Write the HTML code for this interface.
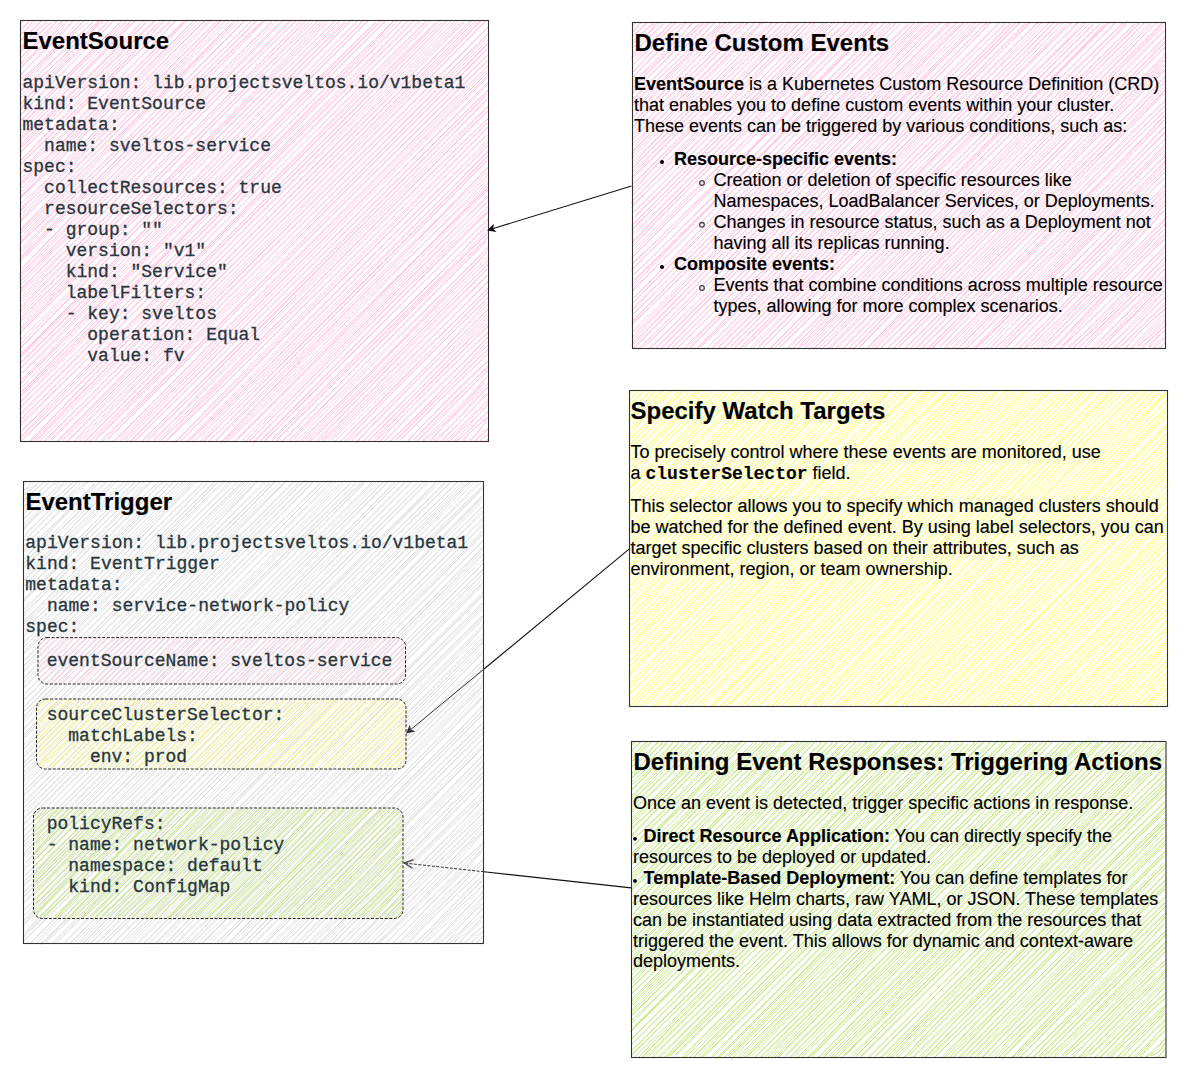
<!DOCTYPE html>
<html><head><meta charset="utf-8"><style>
html,body{margin:0;padding:0;background:#fff;width:1188px;height:1081px;overflow:hidden;position:relative}
.t{position:absolute;white-space:pre}
</style></head><body>
<svg width="1188" height="1081" style="position:absolute;left:0;top:0"><defs><clipPath id="c0"><rect x="38" y="637.6" width="367.5" height="46.39999999999998" rx="9"/></clipPath><clipPath id="c1"><rect x="36.5" y="699" width="369.5" height="70" rx="9"/></clipPath><clipPath id="c2"><rect x="33.5" y="808" width="369.5" height="110.5" rx="9"/></clipPath></defs><path d="M20.9 23.6C21.9 22.8 22.5 21.9 23.9 20.7M20.7 23.8C21.8 23.3 22.6 21.5 23.5 20.7M21.3 30.5C25.1 25.5 28.1 22.9 29.7 20.8M20.2 28.7C22.5 27.2 27.4 23.1 29.1 21.7M21.2 33.6C26.2 30.5 29.9 25.7 33.6 19.9M20.8 34.4C23.9 31.3 31.0 27.3 36.2 21.7M21.8 40.0C26.5 36.2 33.0 26.9 42.5 19.6M19.3 41.4C29.0 33.9 35.9 27.4 41.8 21.3M21.3 46.3C28.5 39.7 36.4 29.7 47.7 22.6M21.5 48.2C28.0 39.7 36.2 28.4 47.6 20.2M19.8 50.7C28.3 41.4 42.2 32.3 50.5 22.0M19.5 51.9C32.1 44.7 41.6 29.9 52.3 22.4M20.5 59.2C30.3 45.3 45.3 31.9 59.4 19.7M21.3 56.9C31.3 47.1 49.2 33.1 56.0 20.7M21.1 63.8C35.9 52.2 52.7 35.3 64.1 19.4M20.6 63.1C31.4 48.4 49.1 31.9 62.0 21.5M20.4 67.5C33.3 53.9 52.1 37.4 67.3 19.7M21.4 67.8C34.7 52.6 56.5 38.1 68.2 20.5M20.9 74.7C36.3 57.3 60.4 35.3 73.2 19.6M19.3 76.4C37.4 56.1 58.8 39.7 74.8 19.7M22.3 81.1C37.0 64.0 62.8 40.3 79.5 20.5M20.4 79.4C40.7 64.2 64.3 40.1 81.5 22.7M20.0 86.1C38.0 65.3 65.2 41.6 85.5 19.3M22.6 85.9C43.0 65.8 65.0 39.0 87.6 22.8M19.9 90.6C44.1 70.4 71.3 43.8 92.2 22.4M19.5 92.3C43.6 70.4 68.8 43.8 93.2 22.0M20.4 98.5C43.4 76.9 75.7 42.1 99.1 20.6M19.7 96.1C42.0 76.2 77.1 44.8 98.8 22.1M20.5 103.2C48.2 79.2 78.6 47.9 101.7 19.3M20.8 104.4C44.3 77.3 77.0 46.1 104.2 20.0M20.1 108.4C46.5 82.2 82.8 49.5 107.4 22.5M20.7 110.2C47.4 79.8 82.1 45.6 108.7 21.1M19.2 115.4C50.2 86.6 85.4 49.1 113.2 20.9M21.2 115.4C47.6 85.1 87.8 49.0 112.9 21.2M21.2 120.9C51.3 90.3 90.4 51.7 121.5 20.8M20.8 120.1C51.8 92.3 92.7 49.4 119.9 22.6M21.2 127.2C50.4 93.9 91.9 51.0 126.9 19.7M19.5 126.3C50.5 95.4 95.1 50.5 126.7 22.4M22.4 133.0C53.5 98.1 100.9 55.9 130.3 22.6M19.8 131.1C52.4 97.2 99.4 51.5 131.4 20.4M21.2 136.8C56.5 102.2 99.8 58.4 135.2 20.4M22.0 138.7C53.3 103.7 100.9 53.8 135.5 20.2M20.7 144.1C55.6 108.4 106.5 58.6 143.8 20.1M19.5 141.0C55.2 108.5 106.9 59.1 143.3 20.7M19.5 149.6C58.9 109.2 110.4 61.5 146.7 22.3M20.2 146.9C57.1 108.3 107.7 57.6 148.4 20.1M20.3 153.2C60.9 112.3 113.2 58.3 154.9 20.2M20.1 152.2C59.2 113.9 116.4 58.8 154.8 21.2M22.1 159.3C62.0 118.1 119.0 65.2 159.6 22.2M20.4 160.8C62.1 117.2 115.6 60.6 160.3 21.5M19.5 166.1C62.0 123.8 124.0 65.2 164.4 19.8M20.2 164.3C62.4 121.7 120.7 66.8 164.5 20.9M22.7 171.1C64.9 125.2 123.2 65.3 170.0 22.7M20.9 170.9C63.3 124.7 123.7 65.4 169.8 21.0M19.4 174.8C68.1 130.1 131.2 68.5 175.9 20.0M21.8 177.9C70.3 128.0 131.1 68.4 176.2 20.4M19.4 183.4C70.6 135.5 131.9 69.5 183.6 21.5M21.0 183.4C69.8 136.0 134.8 70.4 183.3 22.2M20.0 186.2C68.9 139.6 138.1 71.8 186.6 20.5M21.5 188.5C72.7 139.2 137.8 71.3 187.8 19.2M21.6 192.0C70.5 140.5 143.0 71.2 194.4 20.1M21.9 195.2C72.6 142.8 143.2 73.4 193.5 20.6M21.5 197.7C75.8 144.7 146.1 71.8 197.9 20.1M19.4 198.4C75.4 144.6 145.8 74.3 199.8 21.7M20.9 203.5C78.7 152.0 147.1 75.9 206.3 19.9M22.2 206.5C74.6 152.1 148.1 76.6 204.7 20.2M19.7 210.6C79.6 153.7 155.7 78.9 212.1 19.7M20.0 211.9C75.2 153.6 153.4 76.8 210.5 19.3M19.7 215.6C76.9 159.0 159.4 77.5 215.5 22.2M22.5 216.9C78.9 157.0 160.3 80.0 217.6 20.2M20.5 221.6C79.1 163.4 160.4 83.6 221.0 19.4M20.1 221.0C80.6 164.0 163.6 82.9 221.9 19.9M21.5 229.0C84.1 163.1 166.8 82.7 229.1 21.2M21.9 228.0C85.2 163.5 165.4 82.1 226.7 19.4M20.3 234.0C85.5 168.4 169.8 84.1 234.8 20.1M19.8 231.9C84.6 168.0 171.7 87.3 232.1 22.5M20.8 237.5C85.5 171.2 172.0 85.0 237.7 19.5M21.3 240.2C85.9 173.6 172.8 85.5 239.7 20.7M19.4 243.6C88.1 178.1 179.4 86.5 246.1 19.7M20.2 243.5C90.5 179.3 179.4 85.5 244.1 20.8M19.3 250.9C90.2 178.7 180.8 92.0 251.5 20.9M22.2 251.4C87.6 179.5 181.5 90.7 251.8 20.1M22.6 256.6C91.2 185.6 182.8 93.0 256.3 22.0M20.0 257.3C89.4 184.0 186.1 92.5 256.3 20.3M19.6 259.9C92.5 187.8 189.8 90.5 261.5 21.3M20.3 261.3C95.2 189.2 187.9 91.8 263.1 21.5M22.7 267.8C94.8 194.2 192.8 93.5 266.4 19.3M21.6 268.6C93.9 192.8 194.2 93.2 266.1 19.3M22.1 273.6C99.1 196.2 198.9 95.1 272.7 19.9M20.0 273.7C96.5 195.5 195.7 96.1 272.0 22.6M21.6 280.0C96.7 203.7 199.2 95.8 277.1 20.6M19.4 278.0C99.5 203.9 203.5 97.3 279.8 22.4M19.9 285.6C100.8 204.5 204.4 99.0 284.9 19.3M19.8 282.3C102.4 203.1 207.6 98.3 283.3 20.5M20.5 290.9C99.2 208.9 208.4 103.9 290.9 20.8M19.9 289.2C101.1 210.8 210.5 99.1 291.1 19.3M19.3 293.8C104.6 215.2 212.2 102.1 296.9 20.1M22.6 295.8C102.3 211.8 210.4 104.7 294.5 21.8M22.5 301.5C103.6 216.9 219.5 107.5 302.6 19.3M20.6 300.1C107.3 215.3 218.6 106.3 300.8 21.0M22.2 307.7C105.7 220.2 222.5 104.4 307.1 20.4M19.9 307.6C104.2 221.3 220.0 109.3 305.8 19.4M22.4 314.1C106.2 224.9 226.1 108.1 311.5 19.5M20.0 312.0C109.7 226.8 225.8 106.4 312.8 21.6M22.2 317.2C111.4 227.3 227.5 108.7 318.2 20.5M19.8 319.4C109.5 231.5 228.9 108.6 318.3 20.4M22.1 324.2C111.7 234.6 234.7 114.0 325.4 19.6M19.3 322.9C114.3 233.3 235.2 111.1 322.3 19.9M22.3 329.1C115.9 234.7 237.3 114.1 328.4 22.0M20.0 328.8C112.2 237.3 237.6 111.9 328.0 19.9M19.2 334.3C114.2 239.2 242.4 115.4 335.6 19.9M19.4 333.5C115.9 238.6 239.0 116.2 334.6 21.2M20.7 339.8C115.9 245.1 244.0 116.4 339.9 22.6M22.3 342.4C118.1 243.1 242.1 119.1 340.1 19.9M20.7 347.4C118.4 246.9 246.1 118.9 345.9 22.4M21.5 347.7C117.9 248.7 246.8 117.4 344.8 21.4M21.1 353.5C121.9 255.2 251.0 118.3 350.5 21.0M22.6 353.6C122.6 252.0 254.8 120.9 351.9 19.4M22.2 356.4C121.5 258.5 258.4 120.3 358.6 20.0M20.0 357.2C119.9 255.2 257.8 124.1 357.6 20.6M19.3 363.5C125.5 258.5 261.1 123.9 364.2 19.3M21.5 362.5C123.3 261.4 260.3 123.3 363.0 21.3M19.3 369.3C126.8 266.0 264.3 123.6 368.9 20.0M20.9 367.5C123.2 264.2 264.6 122.9 367.6 20.8M21.5 373.0C127.1 266.1 268.5 126.4 375.4 22.0M22.6 373.2C128.3 270.2 266.8 129.7 375.8 22.8M21.0 381.9C130.3 274.8 270.1 128.0 381.7 19.8M21.9 379.0C130.5 270.5 272.5 131.0 381.6 20.2M19.9 385.0C128.0 274.7 274.6 132.8 385.9 20.3M21.6 387.3C128.4 276.6 277.1 129.7 384.7 22.0M22.3 391.7C130.0 283.0 281.1 131.6 391.8 22.4M22.1 390.7C131.4 281.8 280.1 130.4 393.3 21.3M21.9 395.6C134.6 286.9 284.8 134.7 398.3 20.1M20.3 395.4C134.5 284.0 284.4 136.0 395.5 19.7M19.7 401.9C132.9 287.5 286.2 134.8 403.4 19.3M20.0 403.1C136.2 288.2 286.3 137.9 403.2 19.9M20.1 407.2C139.3 293.8 291.7 136.0 407.0 21.5M19.2 409.0C138.0 291.9 294.6 138.5 408.7 20.5M20.1 415.6C138.4 294.8 293.8 140.5 412.5 21.1M19.2 414.3C137.3 296.8 296.2 139.7 415.7 19.7M22.1 418.6C138.2 302.3 301.7 141.8 419.1 20.3M19.2 421.0C141.9 299.9 298.7 138.5 420.7 20.9M20.0 423.8C143.4 306.0 305.3 141.1 424.9 21.9M21.2 425.2C141.1 304.9 306.6 140.8 426.5 21.1M22.4 429.4C145.4 310.5 309.4 143.1 430.3 20.0M22.4 430.5C144.7 309.1 309.0 146.6 430.2 22.5M20.9 438.0C145.4 313.3 312.4 144.7 437.5 22.3M20.0 437.2C143.8 309.5 309.9 148.0 435.3 22.5M21.9 439.7C149.5 315.7 317.5 148.3 440.7 19.3M20.9 441.3C150.2 317.1 314.1 149.0 441.9 22.1M29.6 442.6C152.0 312.5 324.0 148.7 446.7 19.9M28.6 442.2C151.9 312.8 323.5 145.4 448.6 20.2M33.1 440.7C158.6 316.2 327.0 146.0 452.0 20.1M35.4 441.0C157.2 314.5 327.4 148.5 455.0 21.4M38.9 441.7C167.4 312.8 335.1 145.2 459.5 20.0M37.6 439.9C162.7 315.0 333.4 148.6 460.4 22.7M43.9 441.0C169.8 317.4 337.9 145.5 464.5 22.2M45.8 441.0C168.8 316.6 340.1 148.5 463.7 21.5M51.2 440.5C178.8 312.8 346.8 144.4 470.4 20.6M49.7 440.1C176.1 317.1 343.3 146.8 472.2 21.0M56.5 441.9C181.6 314.1 348.5 148.9 477.3 21.5M57.0 441.9C183.9 315.4 348.4 146.8 475.2 20.8M63.4 440.1C189.1 316.9 354.2 145.1 480.9 20.3M61.1 440.4C187.1 313.3 358.6 148.2 482.1 19.8M66.3 442.7C196.3 316.6 363.0 146.6 486.3 20.6M66.6 441.5C193.1 312.5 361.1 148.6 486.3 19.9M74.0 441.0C195.8 317.2 363.1 152.0 488.5 26.2M74.8 440.7C197.3 315.1 364.8 152.8 488.3 27.2M80.0 441.7C202.5 318.1 364.3 155.4 489.3 32.7M77.6 440.7C202.4 317.0 364.9 154.5 489.0 32.8M85.1 440.7C204.0 320.8 368.5 158.1 488.6 39.2M84.6 442.7C203.8 321.5 369.4 158.8 486.3 37.8M88.9 441.3C209.7 322.4 370.5 162.7 488.1 44.1M90.0 442.6C209.0 323.1 366.7 165.2 487.0 44.0M95.5 439.4C211.0 323.0 370.0 167.7 487.2 48.6M95.4 440.2C216.0 323.5 368.9 168.2 487.0 49.8M101.2 440.0C219.2 325.8 371.9 170.9 486.7 55.6M100.6 442.7C219.3 326.8 371.9 169.4 487.5 55.1M107.5 439.7C223.4 325.5 373.1 173.2 489.2 59.8M107.0 439.9C220.3 325.4 372.7 174.4 486.2 61.1M112.7 441.5C227.8 330.4 373.1 180.2 488.6 65.5M114.4 442.0C226.2 325.9 372.8 180.9 486.7 67.1M119.2 440.1C228.0 331.7 376.4 180.5 486.6 70.3M120.1 442.1C230.0 331.7 378.1 184.5 486.8 73.0M125.3 442.2C233.5 333.2 378.5 188.4 486.9 78.0M124.5 440.2C233.3 329.5 378.7 184.5 487.0 76.0M129.9 441.0C234.7 335.4 380.4 190.7 488.1 84.2M130.5 442.2C239.8 331.3 381.3 191.1 487.5 82.6M133.9 441.4C240.4 337.9 382.3 194.2 488.7 90.1M137.0 439.3C240.4 337.2 381.5 194.2 488.8 89.0M141.3 442.0C244.8 337.3 385.7 197.1 487.0 94.0M142.4 440.7C245.3 339.5 384.8 199.8 488.0 93.4M146.3 440.3C249.9 340.2 383.2 203.4 487.3 100.2M148.3 441.2C246.6 337.0 387.9 202.8 486.4 99.2M153.1 442.0C253.8 341.0 388.4 206.7 489.5 105.9M153.2 440.0C254.6 338.2 385.6 203.7 488.6 105.4M159.2 442.5C258.9 343.6 389.4 208.8 488.6 110.7M157.5 440.7C257.9 344.4 386.7 210.5 487.3 111.0M162.2 439.6C263.4 343.5 388.1 213.5 489.1 117.1M164.2 442.6C260.6 341.6 391.5 212.5 489.7 116.8M168.3 439.3C263.0 348.0 390.2 220.1 486.2 123.2M168.2 439.3C266.3 343.8 390.0 219.5 488.8 121.6M175.9 442.3C269.7 348.3 393.9 224.4 488.8 126.7M174.3 442.7C266.4 348.0 395.9 219.7 488.8 126.4M180.1 441.8C272.9 346.5 395.1 226.4 486.8 135.1M180.6 441.6C272.2 349.6 396.5 225.5 486.7 134.9M186.1 442.0C277.3 349.4 395.2 232.5 489.6 140.5M187.2 442.2C279.5 352.3 398.1 228.9 487.4 139.9M191.9 442.4C281.4 354.4 400.9 232.7 487.6 145.8M190.3 440.1C282.6 354.3 396.8 235.7 487.7 145.5M198.9 442.3C286.8 355.6 401.9 240.1 488.3 150.0M197.2 439.5C283.2 355.3 403.3 236.4 488.2 151.9M203.8 441.6C287.5 357.0 404.2 241.6 487.9 155.4M202.0 442.1C289.2 357.8 404.7 241.9 489.0 155.5M209.0 441.3C291.1 358.4 403.6 246.1 486.9 161.0M208.8 441.1C295.5 356.7 402.2 246.5 486.7 160.5M215.8 439.8C296.8 356.4 403.5 252.4 488.3 167.2M216.1 441.0C298.2 358.6 408.4 251.2 488.2 166.9M221.6 442.7C299.1 359.0 405.5 251.3 487.1 171.8M220.6 442.3C302.9 358.4 408.3 253.1 487.8 175.0M224.7 442.7C305.4 364.9 410.3 257.1 487.1 179.3M225.9 439.8C303.2 359.9 408.1 256.9 489.7 180.9M233.2 442.5C310.2 365.3 411.9 264.2 489.2 183.1M230.1 439.7C309.6 363.0 411.6 263.0 488.9 186.3M236.0 440.4C312.5 364.0 411.4 263.7 487.1 189.0M238.0 439.2C310.1 368.1 411.3 267.9 488.8 189.3M244.4 442.4C314.4 369.8 416.4 270.2 486.7 195.9M242.9 440.4C317.2 365.6 413.0 267.1 489.2 196.0M249.5 441.2C319.2 368.7 414.4 272.3 486.7 203.0M249.9 440.4C319.5 371.4 414.1 276.1 486.8 201.7M252.8 442.4C324.3 369.8 416.6 275.8 488.6 206.3M253.9 442.8C322.3 369.8 420.0 275.1 489.8 208.9M260.8 440.3C330.1 371.7 417.7 278.7 489.7 211.3M261.2 441.1C330.6 371.1 420.0 279.5 486.9 212.8M264.5 442.0C330.1 372.1 421.9 285.4 488.8 217.6M264.9 439.9C334.1 374.8 419.7 283.0 488.4 219.4M272.2 440.7C338.0 375.1 424.8 291.3 488.8 222.7M271.3 439.3C338.3 374.7 421.3 291.1 489.5 224.3M276.5 439.8C337.6 377.8 424.4 293.4 487.5 230.3M275.6 441.8C339.3 378.8 424.1 294.7 489.1 231.3M281.1 442.3C344.3 379.6 426.6 294.7 489.6 235.6M284.3 440.0C342.9 381.1 423.9 295.1 486.9 234.2M289.0 439.9C348.6 381.2 429.2 299.1 486.3 241.7M289.6 441.8C348.2 381.1 426.9 299.2 486.4 240.0M293.6 439.7C350.3 383.2 431.1 303.4 488.3 248.3M295.1 442.6C354.0 382.9 429.2 307.6 487.6 246.7M300.6 440.4C355.8 387.1 433.1 311.4 487.1 252.0M300.8 442.3C358.6 386.8 430.1 308.7 486.4 252.7M305.8 440.5C359.7 386.2 430.6 311.1 488.1 256.7M307.0 442.0C361.8 388.3 435.3 310.6 489.6 258.8M311.4 440.2C364.3 390.2 435.5 315.7 488.6 263.1M311.0 440.8C363.0 388.7 432.8 317.6 489.6 263.2M318.2 441.0C368.2 387.7 434.5 319.0 487.2 269.5M315.8 440.7C365.8 389.8 438.4 321.6 487.2 268.7M322.5 441.5C371.8 391.5 438.9 324.8 486.9 276.0M321.6 440.1C371.3 391.7 435.6 324.2 487.0 275.3M329.2 440.1C374.8 395.6 438.9 330.4 488.2 280.9M326.7 439.4C373.6 392.4 439.6 330.2 489.3 280.7M332.2 440.0C378.0 393.8 440.9 333.8 489.7 287.4M334.0 442.3C381.2 396.0 443.1 332.8 489.2 286.6M340.2 441.8C385.9 393.7 444.8 337.3 489.5 290.9M339.2 442.7C385.4 398.4 443.9 336.2 488.3 291.9M344.7 440.8C387.2 398.4 444.4 339.9 488.8 297.1M345.9 442.3C386.1 397.0 443.1 341.2 488.0 297.7M350.8 439.5C393.6 401.6 449.2 343.2 489.5 302.9M350.3 442.5C392.1 399.7 449.0 346.3 486.2 301.9M356.3 442.8C396.7 400.9 447.7 349.2 488.1 309.3M355.7 442.6C393.6 400.8 447.9 349.1 488.6 309.3M362.1 442.4C399.4 403.8 452.8 351.8 489.7 314.8M362.0 442.1C402.3 404.9 450.2 350.6 486.8 314.2M368.9 441.7C405.7 404.4 450.0 355.5 489.2 322.3M367.5 441.0C404.4 405.4 451.1 359.3 486.9 319.4M373.7 439.4C406.6 407.6 450.9 359.6 487.7 327.2M374.4 441.3C407.6 406.8 452.3 361.4 488.6 325.1M378.9 442.8C409.5 406.4 456.6 362.4 488.3 331.5M377.4 439.8C412.2 409.9 452.9 361.9 488.1 333.0M385.4 440.4C413.7 408.7 454.8 370.7 488.8 336.9M384.8 440.5C413.1 412.1 457.4 371.0 487.8 337.1M389.9 441.4C421.8 413.6 457.6 374.6 487.1 341.5M391.3 440.3C419.5 414.1 457.3 371.9 488.4 344.8M396.6 440.0C423.4 414.9 459.0 374.7 487.3 350.1M395.3 439.9C423.8 411.3 460.5 375.8 489.7 348.0M401.1 439.4C426.6 413.7 460.4 379.2 486.6 355.6M400.5 439.3C425.6 416.1 459.8 379.2 488.6 353.9M408.3 439.7C433.0 414.9 462.9 385.6 487.8 361.3M406.7 442.7C431.4 415.3 463.5 382.4 486.9 361.7M413.5 440.1C434.6 417.1 466.0 386.8 489.4 366.1M414.1 439.6C434.1 419.9 464.8 389.2 488.0 365.9M418.7 440.3C437.5 422.0 466.2 393.2 487.6 369.9M417.0 441.2C438.2 417.8 466.1 390.8 487.5 371.4M422.7 441.8C445.5 423.3 470.9 398.2 487.2 376.7M422.7 440.2C444.1 421.0 468.3 397.1 486.3 377.7M430.4 440.1C447.9 421.8 468.4 402.4 489.2 382.2M430.6 441.8C445.4 421.9 469.5 399.6 486.3 381.1M433.7 440.3C453.0 425.6 473.4 402.8 488.5 387.2M435.2 441.7C453.0 426.7 471.1 401.7 487.5 386.6M442.3 441.4C453.0 428.5 472.3 410.4 486.4 393.1M441.9 439.5C456.5 428.7 472.7 405.9 488.7 393.7M448.3 440.7C460.4 430.4 476.3 411.8 489.5 400.4M445.1 441.7C461.4 426.6 477.0 409.6 487.7 399.7M453.1 442.1C465.6 431.0 477.5 414.7 487.1 405.5M450.8 440.5C462.0 428.3 478.4 417.0 487.7 404.3M457.1 440.1C469.4 431.2 477.9 422.1 488.1 410.8M456.7 441.2C467.3 433.4 477.2 420.9 487.4 412.1M464.0 440.9C468.9 432.6 479.9 422.4 489.0 417.9M462.1 440.2C470.7 431.6 479.8 423.8 486.9 417.4M468.8 439.8C477.6 436.8 480.2 429.1 486.5 420.6M471.1 441.2C474.6 433.7 482.6 425.3 486.6 422.3M476.4 441.5C479.6 435.9 482.8 430.1 488.4 429.4M473.4 441.9C477.3 437.8 485.8 434.0 489.1 427.3M480.0 441.5C482.4 437.9 486.7 435.3 488.6 434.1M480.4 441.1C482.1 437.5 486.0 436.2 487.8 434.3M486.4 441.1C486.8 440.5 487.3 439.7 488.2 439.5M486.3 440.8C486.8 440.8 487.2 439.5 488.1 439.2" stroke="#ffc4e2" stroke-width="0.95" fill="none" stroke-opacity="1.0"/><rect x="20.5" y="20.5" width="468.0" height="421.0" fill="none" stroke="#333" stroke-width="1.1"/><path d="M24.0 484.6C25.2 484.4 26.3 482.8 27.0 481.6M23.8 484.9C24.7 483.9 26.2 483.2 26.8 481.9M24.9 489.8C26.8 487.4 29.0 483.2 32.0 481.9M23.6 490.4C27.7 489.5 31.4 484.9 33.5 482.9M25.1 494.6C27.1 492.3 36.3 486.1 38.8 482.4M24.5 495.4C25.7 490.2 34.9 486.0 37.6 483.4M22.5 502.4C29.5 496.0 38.2 487.4 43.3 482.3M22.6 500.6C27.8 497.8 36.5 485.8 45.2 482.2M24.1 506.6C30.2 500.2 39.7 489.7 49.4 482.2M24.3 505.9C31.3 501.8 42.1 490.8 49.1 480.5M24.9 511.7C31.2 505.6 45.2 489.6 56.9 482.8M25.7 513.3C34.8 501.4 44.4 490.6 56.1 480.7M22.3 519.1C36.2 507.3 51.8 493.7 59.7 481.3M25.3 519.0C33.2 509.1 48.9 494.5 62.3 483.3M24.6 525.6C38.0 514.1 54.9 492.3 65.1 481.5M24.4 523.0C34.6 514.0 54.6 493.4 66.6 483.1M22.9 529.9C36.3 513.1 55.6 498.0 73.3 482.3M22.9 530.3C37.8 513.7 59.7 496.6 71.3 482.7M24.7 536.8C39.3 517.7 61.6 500.1 79.4 480.2M25.1 534.1C41.1 519.0 61.5 496.3 76.6 483.1M25.2 541.0C39.5 522.7 64.0 501.9 84.7 482.4M24.3 539.8C41.6 524.0 65.0 499.0 82.2 481.5M22.2 547.3C43.3 530.2 67.1 499.6 88.5 480.3M24.6 546.2C42.2 527.9 69.7 504.0 88.2 482.0M25.8 551.0C47.2 533.0 74.2 503.9 94.9 483.0M23.5 551.9C47.6 532.5 72.4 504.6 95.8 483.3M24.9 558.4C47.2 534.9 75.1 504.0 100.9 481.5M23.4 560.1C45.5 534.0 76.6 502.9 100.3 481.5M22.2 565.4C49.0 538.4 79.6 504.3 105.9 481.8M23.3 563.3C51.0 538.6 83.7 507.1 106.8 482.2M22.5 568.5C49.5 544.9 85.0 510.3 112.0 483.8M22.4 569.6C49.0 540.8 83.6 507.1 113.1 481.2M24.7 574.3C52.6 549.3 90.1 508.4 117.0 480.9M24.8 577.0C53.7 549.4 88.5 508.0 117.7 480.5M22.9 581.1C56.0 549.7 92.4 513.0 124.3 482.5M24.5 580.7C51.3 550.8 90.8 512.4 123.6 481.4M23.4 586.6C55.2 552.6 99.6 513.7 129.0 481.1M25.8 585.1C54.5 553.1 95.4 511.5 129.1 482.8M25.0 590.8C57.3 559.7 101.5 515.9 135.4 481.7M24.4 591.7C58.2 560.6 102.7 514.1 135.2 481.1M25.0 599.7C58.9 565.6 103.2 514.1 139.8 481.2M23.9 598.5C61.4 561.7 106.6 514.6 141.0 481.5M22.3 602.3C60.8 565.4 111.5 517.8 144.0 482.0M22.7 602.5C58.7 564.6 110.6 517.1 146.5 483.5M25.7 609.3C63.8 570.9 112.1 522.4 151.8 481.4M22.6 610.1C61.7 573.1 110.7 520.5 149.7 482.5M23.7 616.4C62.4 573.7 115.8 521.5 158.5 482.5M23.0 613.9C62.8 577.7 115.5 522.3 157.9 482.5M22.8 621.9C66.9 580.8 119.8 522.7 163.9 481.2M23.9 622.0C66.1 578.8 121.4 525.6 161.4 482.7M23.0 627.6C69.2 581.3 126.9 527.9 167.7 483.0M23.3 624.5C64.6 585.2 123.1 526.5 166.9 483.7M22.6 630.7C68.1 589.2 130.1 529.0 174.6 480.5M25.7 630.2C70.0 584.4 129.0 525.5 173.0 483.1M23.7 636.1C69.7 592.9 130.8 528.6 177.8 483.8M22.7 637.3C68.8 592.2 132.9 526.6 178.4 482.7M23.5 643.2C70.8 597.4 138.9 531.6 186.7 481.5M23.2 642.1C69.9 594.9 136.4 530.7 184.4 480.4M23.5 647.1C74.3 599.1 141.8 534.7 191.6 482.6M25.3 649.7C73.6 601.4 140.2 531.4 190.5 481.3M23.7 653.2C76.3 605.1 143.4 534.4 198.3 480.2M23.6 653.6C77.6 604.3 147.0 531.3 195.4 480.6M24.7 659.6C76.5 609.3 146.0 536.8 202.7 482.2M25.3 660.2C76.0 607.4 150.0 534.8 202.5 483.8M24.8 665.5C80.1 609.7 153.4 537.4 207.9 482.4M23.0 666.3C79.0 611.9 152.8 537.0 207.0 483.5M23.0 670.2C81.0 614.8 158.3 537.4 215.0 482.1M22.8 672.7C82.6 616.8 158.6 536.4 213.4 482.5M23.6 678.4C80.7 617.3 158.5 539.8 220.3 480.6M25.1 677.2C82.0 621.3 161.7 540.3 219.0 480.5M23.9 683.9C85.2 621.9 164.7 540.8 225.8 480.7M23.5 682.2C82.6 623.0 162.2 540.5 224.4 480.3M24.8 687.7C87.7 624.3 169.3 545.9 229.8 481.1M22.9 688.2C85.2 624.1 168.2 543.2 231.5 482.4M24.8 693.4C89.3 629.7 171.9 546.1 235.8 482.5M25.5 693.0C87.0 631.4 171.6 543.3 237.8 482.8M24.9 699.4C91.5 635.8 173.9 547.8 241.9 482.0M23.9 699.7C89.2 636.6 176.1 547.3 243.0 481.7M24.0 706.6C90.5 635.9 181.4 549.3 248.1 482.9M25.0 706.4C88.8 640.1 178.3 546.8 246.1 481.0M24.9 711.3C93.9 642.3 182.0 551.8 251.5 482.7M23.7 711.4C94.7 640.5 183.5 550.8 254.9 483.1M22.2 718.5C93.4 645.0 190.3 552.7 257.9 481.1M24.0 716.5C96.4 648.0 190.3 551.1 257.1 481.3M22.9 720.8C95.9 650.2 192.7 553.4 264.5 481.5M25.1 721.3C93.7 649.3 192.5 553.6 265.9 482.2M24.2 727.4C96.7 655.4 197.9 556.3 269.3 483.1M23.8 729.6C95.4 653.9 197.0 553.4 269.9 483.4M25.3 732.2C101.8 658.5 201.8 557.5 276.1 480.8M24.6 734.4C101.3 656.3 202.5 555.9 275.0 481.0M22.6 737.9C100.8 663.0 202.9 561.4 282.4 483.6M24.7 738.1C98.7 664.0 203.1 557.8 279.8 482.7M24.3 744.4C105.1 665.2 210.0 559.0 287.3 480.8M25.1 746.8C102.3 666.9 206.6 561.2 286.7 480.3M22.5 750.6C105.6 668.0 213.9 560.6 293.5 481.7M25.5 752.5C103.5 669.3 213.4 562.6 294.3 482.1M25.5 754.9C106.8 674.3 213.8 562.4 298.3 483.3M23.2 757.8C108.6 671.5 216.6 566.8 299.6 481.0M23.4 763.6C107.1 677.7 218.6 567.3 304.6 480.4M22.8 763.1C108.3 675.8 220.3 567.6 303.3 480.4M24.3 767.5C107.5 682.8 222.0 568.1 308.0 482.0M23.5 767.2C107.9 684.4 223.1 569.5 310.3 480.8M25.3 773.3C113.4 683.9 227.9 569.6 314.1 480.5M22.6 773.2C111.4 685.2 226.3 568.9 314.1 482.1M22.9 777.6C113.1 692.0 229.3 573.5 320.0 483.3M24.0 780.0C111.6 691.2 230.0 569.8 321.2 482.7M22.3 784.3C116.9 691.6 236.3 571.4 326.7 481.3M24.3 785.7C113.4 694.4 238.5 570.3 327.4 480.4M24.4 791.0C118.2 697.6 242.1 571.8 333.4 481.4M25.6 790.0C115.1 699.1 240.8 572.6 332.0 480.5M23.4 794.7C117.3 704.3 246.5 577.8 336.9 481.0M23.9 795.9C119.5 702.5 242.1 576.9 339.0 483.5M25.2 802.6C119.1 703.9 250.2 578.8 342.1 482.8M24.9 800.3C122.1 707.1 249.5 579.5 344.8 483.6M24.3 807.0C123.6 708.6 254.2 579.8 350.4 483.0M25.6 805.9C120.2 711.5 250.2 578.0 351.0 483.0M23.8 812.0C124.3 714.8 255.1 582.8 354.9 483.5M25.1 813.6C122.8 711.4 256.5 583.1 356.5 483.2M23.4 818.9C122.3 717.5 257.0 580.9 361.8 483.1M25.1 818.3C124.1 716.1 258.8 584.8 361.0 481.8M24.4 823.5C127.8 721.3 264.4 586.3 364.8 481.2M22.6 824.9C125.0 720.3 266.0 583.9 364.6 483.2M23.0 831.3C127.8 725.5 270.0 586.4 372.3 483.4M25.8 828.8C128.5 722.8 265.8 588.8 373.1 480.8M23.8 836.7C127.9 729.8 273.4 588.1 376.7 481.5M23.6 837.1C127.8 730.2 271.2 590.5 379.0 482.6M23.5 841.8C131.9 734.4 277.6 589.8 383.7 481.6M23.5 842.9C132.8 733.8 275.2 591.1 381.6 483.2M25.4 847.7C132.5 735.4 281.9 593.6 389.8 480.3M22.7 847.2C132.9 738.7 280.2 590.3 389.1 480.4M24.9 851.8C137.7 742.2 285.0 594.1 394.7 481.7M23.6 854.2C134.0 739.5 283.8 594.9 395.3 482.7M25.1 857.6C138.9 743.5 288.6 593.1 398.9 482.1M23.3 856.6C139.4 747.8 285.6 593.8 399.5 481.6M25.6 862.7C136.4 748.0 290.7 595.9 405.2 481.8M25.7 863.0C138.3 751.1 292.0 598.1 404.8 483.5M23.3 868.2C140.6 754.2 296.6 597.0 412.4 481.9M23.5 871.0C141.0 751.9 296.7 595.8 411.6 481.2M25.2 875.4C140.7 755.8 296.9 600.2 416.6 483.6M24.9 875.8C139.8 756.2 300.0 602.5 416.8 483.1M24.5 881.5C146.0 762.5 302.3 601.1 423.8 481.6M25.1 880.3C143.8 761.3 304.1 603.8 421.7 483.3M22.7 885.9C145.4 767.0 308.0 603.8 426.9 481.7M23.7 886.7C146.9 767.0 305.2 604.3 427.7 483.2M24.9 892.1C148.3 770.8 311.9 607.1 435.6 483.4M22.7 892.9C145.8 766.7 311.6 606.8 434.9 482.4M23.2 896.7C149.7 775.6 316.7 606.0 438.8 480.5M24.7 896.2C146.1 773.7 313.1 605.5 441.0 481.4M22.4 903.2C147.9 778.8 316.9 606.9 445.6 483.1M24.5 902.9C148.9 778.6 317.4 610.3 444.8 482.2M25.1 909.2C149.6 781.0 322.6 607.8 449.4 483.0M24.5 909.9C152.2 781.4 321.5 612.1 451.4 481.6M25.8 915.8C156.5 782.6 326.8 609.8 458.4 481.4M23.8 915.4C153.0 783.3 326.4 610.7 457.5 481.8M22.9 921.3C153.9 790.0 329.2 612.3 462.5 481.8M24.2 921.1C157.9 791.2 332.1 614.7 464.1 482.9M22.4 925.0C158.4 793.5 333.6 614.4 466.3 483.3M22.8 926.5C154.8 791.1 334.1 617.4 469.8 481.3M25.1 931.6C157.0 798.3 338.6 619.6 472.3 480.6M25.5 932.8C156.9 794.7 339.1 617.0 473.6 483.2M23.0 936.5C161.7 803.2 345.4 618.3 477.7 483.5M24.8 937.0C158.6 798.1 341.2 619.1 480.5 483.2M23.6 941.2C161.5 802.8 347.4 621.9 484.2 485.1M22.5 942.4C161.6 806.1 343.7 620.3 483.4 485.4M31.2 942.6C163.7 805.4 346.8 626.1 481.6 490.0M30.2 943.7C166.9 804.6 346.8 625.1 482.8 488.1M36.0 943.8C170.7 808.6 346.8 631.9 482.1 495.9M35.7 941.4C168.2 808.1 350.3 631.4 482.1 497.1M41.5 943.9C176.2 812.0 347.9 631.2 481.3 499.5M40.1 944.6C175.9 811.1 352.7 632.3 482.0 501.6M45.4 941.3C180.1 813.2 350.4 639.2 483.9 505.2M45.4 943.0C179.7 814.3 349.4 639.5 481.6 507.7M52.5 944.2C182.0 815.4 351.5 639.1 483.0 512.7M52.5 942.2C182.8 811.2 355.6 643.2 482.6 510.5M57.8 941.6C185.1 813.4 358.1 645.7 483.5 516.9M57.4 941.5C187.4 813.3 354.8 644.4 483.8 519.2M64.6 941.7C190.9 814.5 354.9 647.4 483.4 525.4M64.3 943.4C188.9 817.8 358.0 651.7 483.1 523.5M70.1 944.1C194.6 816.4 359.9 655.3 484.5 530.5M69.0 944.4C193.1 820.0 357.6 652.3 481.8 530.9M74.4 942.4C200.0 821.4 362.9 658.8 481.5 534.7M76.2 944.8C196.0 820.1 358.0 655.9 483.9 534.1M82.0 944.5C202.8 824.4 363.9 661.5 482.4 541.6M79.2 944.2C200.6 822.5 364.8 659.5 482.3 541.1M86.4 943.5C204.8 826.2 365.0 667.8 483.1 547.8M84.8 942.0C202.7 822.7 365.1 667.9 482.2 547.7M90.8 942.8C210.6 827.0 364.3 667.9 483.7 552.6M90.2 943.7C211.7 826.4 366.2 670.1 482.0 551.1M97.9 943.7C210.9 824.8 366.6 671.3 482.3 556.0M96.2 943.0C212.0 828.8 365.6 671.0 484.7 558.2M102.5 942.7C218.4 826.9 371.4 676.3 483.7 563.0M104.4 941.3C219.1 830.7 370.0 676.0 484.2 562.2M107.1 941.9C222.0 831.2 371.6 679.4 484.5 567.7M107.6 941.5C221.9 831.1 369.3 678.8 484.7 568.5M112.8 944.3C224.3 833.7 370.5 686.6 481.7 576.2M113.6 942.5C223.7 834.1 371.3 684.4 483.1 573.1M121.2 942.0C228.4 833.4 374.9 688.9 481.9 579.2M121.5 941.4C227.6 831.6 373.8 687.0 483.6 581.4M125.7 943.8C232.9 834.1 374.4 692.7 481.5 584.5M124.5 941.4C235.4 836.2 373.5 691.5 482.5 585.7M132.4 943.2C238.9 835.4 380.0 697.1 484.3 593.2M130.6 941.8C234.7 836.3 379.8 696.7 484.3 590.5M138.0 941.5C239.3 840.1 378.5 698.9 482.8 596.5M138.9 942.9C241.7 839.3 376.7 700.8 481.8 595.4M143.7 943.1C245.4 841.8 379.0 706.5 482.0 602.8M144.4 943.9C247.1 839.2 379.5 705.4 484.3 602.4M149.9 941.5C248.5 840.7 381.0 710.2 482.0 606.8M148.8 944.6C246.2 845.1 381.2 708.7 482.6 609.1M154.2 944.6C253.5 842.8 386.1 711.2 483.0 615.9M155.9 942.8C251.8 843.8 383.5 713.7 482.0 615.8M158.1 942.5C254.1 846.6 384.7 716.5 481.8 621.0M160.0 943.8C254.7 848.5 384.1 714.8 481.7 618.9M165.5 943.3C259.3 845.9 388.2 720.5 484.4 623.9M165.1 944.4C263.2 846.5 390.1 720.2 483.6 626.8M169.5 944.5C263.5 848.3 392.0 726.7 481.6 629.4M170.8 943.1C265.5 849.5 387.4 723.3 484.3 632.2M177.3 943.3C271.1 849.5 388.8 730.8 484.1 638.2M177.0 941.9C267.2 850.4 391.3 729.6 483.7 635.9M180.9 943.9C273.5 854.4 390.2 732.5 483.4 642.3M183.1 943.8C275.1 854.4 391.4 732.2 483.5 641.3M189.7 941.9C278.7 853.1 395.8 735.8 482.7 649.7M188.7 944.0C275.0 853.3 392.0 734.6 481.7 647.1M193.4 942.7C282.9 856.6 395.4 741.6 481.5 654.0M193.5 941.8C281.5 854.4 395.5 743.0 482.9 652.0M200.4 944.2C285.6 860.4 396.3 745.9 483.5 659.9M198.7 942.1C286.4 859.9 398.4 742.8 484.2 659.8M203.3 943.1C286.1 856.9 397.9 749.5 483.8 664.2M203.3 942.0C291.1 857.0 397.5 750.8 482.2 665.8M212.4 941.7C291.4 860.9 401.2 751.1 482.4 670.8M209.1 941.5C293.1 862.4 400.0 754.0 481.8 669.2M217.2 942.4C298.7 863.3 400.6 754.5 483.0 675.2M217.1 942.6C298.0 864.6 400.8 756.8 483.8 675.4M220.9 943.7C298.9 862.5 405.6 760.7 484.1 683.1M220.7 941.9C301.0 863.3 403.4 759.9 483.3 680.6M227.8 943.8C302.8 865.3 407.2 765.3 481.3 688.5M228.1 944.4C305.2 865.1 404.6 762.8 481.9 687.0M234.3 944.2C309.8 867.1 407.1 769.4 483.8 695.0M231.7 943.4C308.3 866.2 410.4 770.3 481.5 691.7M238.9 941.9C312.3 869.1 411.0 772.4 481.6 699.0M240.0 941.6C312.1 868.5 410.7 770.7 481.5 698.6M244.0 942.9C315.5 871.2 413.8 778.5 483.8 705.6M245.1 941.6C315.0 869.0 414.1 778.4 482.8 705.1M249.0 942.9C317.8 874.5 414.7 779.8 483.4 709.6M248.8 942.6C317.7 872.0 414.6 778.1 481.5 712.0M254.5 941.5C325.9 873.1 413.1 785.5 481.8 716.1M255.7 942.4C326.6 872.8 413.6 785.4 481.6 715.0M263.0 944.5C328.6 875.4 416.4 789.2 482.9 723.3M262.5 941.7C325.9 878.3 415.7 786.7 481.9 723.3M266.4 942.9C333.9 877.3 416.5 793.3 484.8 726.0M266.7 941.9C334.0 878.7 415.6 793.4 482.7 728.4M273.3 944.4C337.8 881.7 418.7 795.2 484.6 732.3M272.5 942.5C334.5 882.2 419.5 796.7 482.6 731.5M280.0 943.9C341.6 884.3 422.9 801.3 482.1 740.1M279.7 942.1C341.7 879.7 421.9 799.0 483.6 738.2M285.4 942.4C345.9 881.4 425.7 805.2 484.2 745.5M284.9 943.5C344.1 883.1 422.5 805.4 481.4 745.6M290.9 944.3C346.5 882.9 424.1 805.3 482.0 749.3M291.0 942.0C349.1 883.4 424.9 807.3 481.5 748.3M296.7 944.6C353.9 886.6 428.9 813.1 482.3 756.0M294.9 944.3C352.3 888.5 426.9 811.7 483.3 754.1M300.9 944.4C355.0 887.7 430.9 816.8 483.6 760.2M299.9 944.5C355.4 889.6 428.1 813.6 481.3 761.5M307.0 944.2C358.2 891.5 431.8 818.2 484.0 766.4M308.3 944.8C360.8 892.5 428.6 818.6 482.8 766.4M311.9 943.8C363.7 892.8 429.9 826.1 481.9 772.7M314.3 943.2C365.9 892.1 433.3 825.7 484.1 771.4M317.7 944.5C367.6 895.7 435.7 830.1 481.9 776.5M318.2 944.6C368.3 895.2 433.1 828.2 483.2 776.9M323.0 942.2C371.4 893.1 432.6 830.7 482.7 783.9M324.6 943.9C371.7 893.5 435.8 833.8 482.1 783.0M328.4 943.3C376.7 898.1 435.7 837.4 483.8 790.4M331.0 941.4C373.3 894.6 438.6 836.5 484.6 789.3M333.9 942.9C378.6 900.1 437.3 837.9 483.5 797.0M333.9 942.7C377.7 897.1 436.4 837.9 483.4 794.5M340.2 943.0C383.1 902.9 440.3 845.9 481.9 800.7M340.7 941.9C381.7 898.0 441.4 846.0 483.3 799.5M346.1 942.5C388.5 901.5 440.2 849.4 482.7 805.9M346.7 941.2C386.6 902.7 444.3 846.9 484.3 807.3M351.9 942.3C392.7 906.2 441.8 850.7 483.2 812.7M353.4 944.0C390.5 906.1 444.0 850.9 483.3 812.8M356.6 941.6C392.8 904.5 445.3 855.3 484.4 818.9M357.3 944.4C397.7 906.2 445.3 854.4 482.5 817.9M363.0 943.4C398.6 906.5 446.4 861.5 484.0 822.6M363.6 942.2C397.5 908.2 444.6 857.7 482.4 824.6M367.5 944.1C400.9 907.6 450.1 864.5 481.7 828.1M370.6 944.6C401.1 911.1 448.5 861.6 483.2 830.6M375.7 944.3C409.2 911.9 451.1 869.8 482.6 833.3M373.1 941.4C408.4 911.2 448.4 865.4 481.6 833.0M379.3 943.4C410.4 914.8 451.9 870.6 483.6 842.1M379.5 942.0C412.3 910.5 450.5 869.3 484.7 842.2M385.5 943.9C416.1 911.4 453.6 876.7 481.4 846.2M386.3 942.8C414.3 913.4 456.3 877.1 484.4 846.4M393.2 943.2C418.5 916.6 452.9 880.7 481.7 850.6M392.8 943.1C418.6 916.5 456.0 880.3 481.2 852.8M397.1 944.7C423.7 916.3 456.6 881.8 484.6 858.9M398.8 944.1C425.7 918.3 456.3 884.5 484.0 858.5M402.2 943.4C427.0 917.8 461.3 884.8 481.8 864.3M404.6 943.9C427.4 921.2 459.5 886.6 481.7 864.0M410.3 941.5C429.8 918.6 462.7 890.7 484.0 867.3M409.5 942.1C428.8 920.7 461.9 889.4 483.8 869.2M414.9 942.2C437.3 925.1 462.0 895.3 482.5 875.9M415.5 943.9C434.4 924.8 462.3 892.9 482.8 875.7M420.9 941.7C441.5 924.3 465.4 896.9 483.6 878.4M420.5 942.6C436.4 924.0 461.9 900.8 482.1 881.1M427.1 941.3C444.1 927.0 465.0 905.2 482.9 885.6M424.5 941.7C441.2 925.8 464.9 901.1 484.1 884.3M432.9 942.9C449.1 926.0 469.7 907.4 484.0 890.4M433.0 944.0C448.7 927.2 465.3 909.1 483.5 891.4M438.1 943.7C450.6 930.9 471.7 913.1 483.9 896.0M435.8 943.7C449.0 927.2 469.0 910.8 483.2 896.6M441.8 942.5C455.2 929.1 473.0 914.0 483.2 903.6M444.3 944.7C457.3 930.3 471.1 913.7 481.7 902.9M446.6 941.9C459.4 932.9 475.0 919.7 481.6 907.5M447.8 944.6C460.7 933.5 471.8 919.3 483.5 908.5M453.2 944.7C460.3 931.6 474.6 921.1 482.1 915.7M454.0 941.6C463.7 936.6 476.9 923.6 484.2 914.6M460.4 941.2C469.2 935.0 476.4 924.0 481.4 919.3M459.3 944.4C464.0 934.4 474.3 928.4 483.3 920.8M463.8 944.6C470.7 936.7 480.2 930.1 482.2 926.6M466.0 941.4C468.5 939.0 476.4 928.7 484.2 927.0M470.5 943.5C476.8 939.9 480.1 933.0 484.4 932.4M471.6 943.2C473.4 937.7 477.8 932.9 482.6 932.2M476.7 943.5C478.7 941.2 480.9 938.6 482.4 936.6M475.8 942.3C479.1 940.4 481.9 937.9 482.9 936.2M482.2 943.0C482.5 942.7 482.8 942.6 483.0 942.2M482.2 943.0C482.4 942.6 482.7 942.4 483.1 942.3" stroke="#d9d9d9" stroke-width="0.75" fill="none" stroke-opacity="1.0"/><rect x="23.5" y="481.5" width="460.0" height="462.0" fill="none" stroke="#333" stroke-width="1.1"/><path d="M632.7 25.9C633.9 25.5 634.7 23.5 635.8 22.9M632.9 25.7C633.8 24.6 634.5 23.4 636.1 23.1M633.8 31.8C634.1 29.0 638.4 24.3 640.7 23.3M633.5 32.0C636.1 28.7 639.5 24.2 641.5 22.3M634.4 35.4C635.6 30.7 643.9 29.9 646.1 22.6M632.4 36.3C636.7 33.9 642.5 25.4 647.8 22.0M631.5 43.0C636.8 36.9 646.8 27.3 654.6 24.5M633.6 42.8C641.3 38.6 646.7 27.0 653.9 22.3M632.9 47.1C641.1 43.4 648.4 31.8 659.1 23.7M634.1 47.1C641.1 42.0 650.0 31.7 657.8 21.4M632.5 54.9C642.0 42.1 652.6 33.6 663.3 24.7M634.3 54.6C643.5 42.7 654.1 33.3 662.9 24.3M631.2 58.1C646.7 47.8 660.9 35.6 669.2 24.3M634.3 60.1C646.4 49.1 657.1 34.1 671.5 23.5M632.9 64.8C646.2 51.2 661.5 35.7 675.0 23.0M633.0 65.1C645.9 51.5 664.2 36.8 676.0 21.9M634.0 71.1C647.5 56.0 665.5 36.9 680.2 24.5M633.8 72.2C645.9 56.4 665.9 36.4 681.0 23.8M632.5 77.7C647.7 62.2 671.5 40.1 687.6 21.9M633.5 77.4C648.4 58.1 673.1 39.3 685.9 21.4M633.6 84.1C649.9 62.5 676.2 42.1 693.5 22.0M633.0 81.9C652.0 66.7 676.5 42.8 691.6 23.0M632.8 87.8C650.8 66.7 677.4 44.8 697.4 24.7M634.3 87.4C652.1 66.9 680.0 41.8 699.3 24.4M631.6 95.2C654.7 71.2 679.9 43.6 703.5 22.6M632.6 92.0C653.3 73.5 683.2 42.5 703.2 23.9M631.3 100.0C654.3 78.4 688.7 44.5 709.8 22.3M633.3 99.6C655.0 77.2 687.0 46.0 708.7 21.3M631.6 104.0C656.9 82.6 688.3 50.2 714.3 22.7M632.1 106.3C656.9 77.9 692.0 49.3 714.1 23.3M632.2 111.7C656.9 83.7 692.9 50.0 720.6 24.8M634.0 111.9C660.9 82.2 693.1 50.7 720.9 22.6M632.8 118.1C659.4 85.6 696.1 48.8 724.9 22.9M632.5 116.1C662.1 88.4 700.9 49.2 726.4 22.2M633.0 122.0C661.1 94.3 701.5 51.8 731.5 24.3M633.4 122.2C665.2 91.6 700.2 53.5 731.2 21.5M633.1 127.0C663.5 95.8 708.7 53.6 737.0 24.2M632.6 126.4C664.1 95.7 704.8 56.0 738.2 23.6M632.8 134.5C663.5 98.7 712.7 57.1 742.9 23.8M633.6 133.3C664.3 101.0 711.3 54.8 743.2 21.9M633.5 137.7C667.8 103.2 714.4 55.8 749.4 21.8M632.9 139.4C668.8 104.4 714.8 59.3 747.7 22.3M633.3 143.6C669.8 109.5 717.4 59.2 754.4 24.2M634.7 145.8C670.1 105.6 720.5 62.0 755.2 21.6M633.8 149.4C673.0 112.2 719.5 63.3 761.5 21.8M632.8 151.5C673.1 110.5 724.2 60.3 761.0 23.1M631.3 155.3C673.6 114.0 724.2 61.8 764.4 21.5M632.2 157.4C675.5 115.7 727.7 61.7 767.4 24.3M634.5 162.7C672.4 122.3 730.3 65.2 772.4 22.0M634.3 160.3C676.1 119.8 728.4 67.0 772.3 22.9M632.2 168.1C677.3 123.4 732.5 64.7 778.4 22.1M634.6 166.8C673.7 125.3 735.3 68.3 777.3 23.0M632.5 171.9C678.8 127.4 738.1 66.1 782.4 23.8M634.5 172.8C676.3 129.1 737.1 69.7 782.9 24.0M631.5 177.8C679.0 132.3 740.4 69.3 789.1 22.9M631.2 179.6C680.0 132.4 742.6 67.6 787.7 24.2M634.0 183.5C682.3 137.6 745.5 72.3 795.5 24.0M634.6 183.1C681.4 134.0 744.3 73.3 792.8 22.7M632.6 188.6C681.4 139.7 750.0 72.7 798.7 23.3M633.0 191.1C681.4 137.3 751.3 73.4 798.1 24.5M633.1 194.5C686.0 142.3 754.2 75.6 806.5 22.3M632.5 195.5C685.8 141.9 754.0 76.0 804.0 23.5M631.6 202.4C685.1 145.5 756.4 74.2 812.5 21.4M633.0 200.3C685.8 149.3 758.9 74.4 810.5 22.9M632.0 205.1C689.2 153.2 764.4 76.6 816.2 21.6M631.3 207.8C687.6 150.7 759.4 80.6 816.5 24.6M633.0 212.3C691.6 155.5 763.9 79.3 822.3 24.0M634.4 212.2C689.6 156.1 764.3 80.2 823.1 23.2M634.3 216.6C694.1 157.0 770.3 82.3 827.7 24.4M634.2 218.1C692.7 160.8 768.0 82.3 826.8 22.3M633.6 224.4C692.3 164.1 772.7 81.2 832.1 22.8M633.6 223.1C693.5 165.2 771.5 84.5 834.9 22.3M631.4 231.0C694.2 165.8 777.0 84.9 837.8 23.8M632.7 228.1C697.5 166.9 777.2 83.5 839.6 22.3M634.7 234.5C696.1 172.9 780.3 84.5 845.7 24.2M631.4 234.9C696.3 172.9 780.3 84.8 846.5 21.9M633.1 240.5C696.9 175.8 785.0 85.8 852.4 24.4M632.8 242.3C699.5 173.1 787.7 86.2 850.1 23.3M632.3 247.2C698.0 179.3 786.8 88.1 854.7 22.6M632.0 244.9C700.1 177.5 791.1 89.6 855.0 21.9M632.1 251.2C703.0 181.2 795.8 91.2 863.3 21.4M633.4 253.4C702.8 183.8 794.6 90.5 860.7 21.4M633.0 256.6C703.9 186.2 796.1 94.2 867.5 22.2M631.5 258.8C701.3 187.4 797.4 94.6 867.7 22.0M632.5 263.1C707.7 193.4 803.9 97.5 874.8 22.2M632.1 264.5C707.8 192.1 803.0 95.4 873.8 21.9M631.5 270.4C707.4 193.6 805.0 98.0 877.9 22.1M631.5 269.7C707.6 196.3 802.8 95.2 877.6 22.9M634.7 274.3C709.6 200.5 810.0 98.0 884.5 22.5M633.3 274.8C711.0 200.7 811.9 98.3 883.6 24.6M634.2 279.5C712.6 205.0 815.2 99.0 891.3 23.8M634.0 280.3C711.8 205.0 815.0 101.1 889.7 22.5M631.8 284.8C711.0 205.0 815.3 103.1 896.3 22.0M632.0 287.3C710.8 205.9 816.6 99.3 895.4 24.3M632.8 291.3C712.9 208.4 823.6 102.1 899.9 24.3M632.1 290.0C714.1 211.1 819.7 102.5 900.3 23.8M634.7 296.9C713.3 216.9 822.5 106.4 909.1 24.4M634.1 298.1C713.4 215.3 823.8 104.8 907.5 24.1M631.9 303.8C717.7 219.5 831.3 108.7 913.3 24.0M633.2 302.4C714.9 218.1 830.1 109.3 914.6 22.5M633.5 309.3C718.4 222.8 834.4 107.7 920.2 24.0M631.6 309.1C719.7 225.1 831.0 106.7 919.8 22.1M633.0 313.7C720.1 228.5 837.6 108.6 925.9 24.8M634.7 313.2C717.8 226.8 836.5 112.9 922.8 22.8M632.7 321.2C720.7 229.8 840.8 111.5 931.0 23.3M633.5 320.0C724.8 229.3 840.0 109.5 929.3 23.4M631.5 324.0C724.9 237.4 846.7 114.3 935.4 24.2M633.3 323.9C724.4 232.5 845.1 113.1 935.2 22.1M633.0 331.0C727.1 239.3 846.7 116.0 939.9 23.8M634.3 333.1C727.5 239.7 847.6 117.8 942.2 21.4M634.2 338.4C726.5 241.7 854.2 117.8 946.0 23.3M632.4 337.1C729.4 243.1 855.4 114.6 948.5 23.2M632.9 342.8C729.5 246.6 857.5 119.1 953.4 24.7M633.7 344.2C730.9 244.4 858.3 116.4 950.9 22.4M633.8 349.1C729.3 251.6 860.9 121.1 957.3 22.6M632.6 348.3C733.2 249.1 860.9 119.9 959.9 24.0M638.4 349.1C737.9 252.9 863.8 119.3 962.8 23.2M638.9 349.6C735.9 250.8 868.7 118.1 962.7 24.2M644.0 346.8C743.2 250.9 870.0 122.1 968.3 22.3M644.6 346.7C740.6 252.9 873.8 119.0 970.7 24.2M648.4 349.3C749.2 252.0 878.5 122.3 976.4 21.6M652.0 347.4C746.7 251.5 878.7 122.4 976.4 24.5M656.1 347.2C751.4 252.4 885.5 119.1 980.0 23.2M656.6 348.6C754.8 249.5 881.2 119.3 979.5 24.0M662.5 347.9C756.9 249.7 891.1 118.7 987.7 21.8M660.0 348.9C756.8 249.1 889.9 122.5 985.1 23.6M666.9 347.8C763.3 252.1 895.9 122.0 990.5 22.4M667.3 348.7C763.6 249.3 896.0 119.0 990.9 22.6M672.2 347.2C770.3 249.9 902.6 122.9 999.2 23.5M672.7 348.2C769.1 248.4 900.4 121.9 999.2 22.1M677.3 347.8C775.4 252.3 908.1 119.8 1005.3 22.9M677.2 348.5C776.9 249.5 906.1 119.4 1004.4 24.5M684.0 347.9C784.0 250.4 914.2 118.6 1010.7 24.5M685.7 348.5C784.3 247.9 913.6 122.2 1010.5 22.7M689.4 349.2C787.2 250.0 915.7 122.1 1013.8 23.9M690.7 346.5C786.7 250.0 917.8 122.6 1016.6 22.0M697.1 348.5C790.7 250.6 923.4 120.2 1020.0 21.6M697.2 347.7C791.2 252.9 923.5 120.7 1020.0 22.7M700.9 347.1C798.4 253.1 929.0 118.9 1025.5 23.0M699.5 346.8C800.8 249.1 930.2 120.2 1025.6 24.0M706.9 348.1C805.2 251.5 933.7 122.8 1030.2 21.4M708.0 347.3C805.1 249.0 931.8 120.4 1030.2 23.2M710.8 348.9C809.7 249.1 938.3 118.8 1037.9 22.2M713.6 347.8C811.6 251.0 940.8 119.9 1038.2 22.5M718.3 346.9C815.8 251.2 943.5 119.6 1044.8 23.6M717.2 349.2C817.6 252.0 946.8 119.4 1041.4 22.8M722.8 348.7C820.5 251.9 951.7 122.2 1048.1 23.8M725.5 347.6C823.3 248.0 951.5 119.9 1050.5 21.2M730.4 347.3C827.2 251.9 956.9 118.0 1053.4 24.0M730.4 347.0C825.6 251.4 958.4 121.2 1054.3 21.2M734.9 348.8C832.8 251.0 963.8 118.9 1060.7 21.9M734.4 347.4C833.8 250.9 960.8 121.8 1058.6 22.5M739.4 348.9C836.9 250.6 967.0 122.6 1064.5 21.5M742.3 347.2C838.6 249.2 970.7 123.0 1066.6 23.7M744.7 347.4C843.5 252.7 971.3 122.3 1070.8 21.9M745.7 346.2C842.4 248.4 973.2 118.4 1072.8 22.2M750.9 347.1C848.5 250.6 981.0 121.7 1077.3 22.8M751.5 349.5C849.4 249.6 977.6 122.6 1078.1 23.2M758.1 346.6C852.7 251.6 983.8 120.7 1084.3 24.4M758.9 347.5C853.6 251.2 984.8 123.1 1082.7 23.6M762.3 348.8C858.8 248.6 991.0 118.7 1086.7 22.2M764.4 346.5C858.9 249.0 992.3 120.3 1088.8 24.3M770.6 347.4C865.7 253.0 998.6 118.9 1093.7 24.6M769.2 349.6C868.0 251.8 997.1 118.3 1092.7 24.3M776.3 346.6C871.2 251.5 1001.7 121.9 1100.7 23.8M773.0 349.6C872.0 252.2 1001.1 120.7 1099.3 24.1M778.6 348.0C878.8 250.1 1010.4 122.9 1103.8 24.3M782.0 346.5C878.4 247.9 1010.1 120.2 1106.1 23.8M786.3 349.1C885.8 249.3 1011.0 118.5 1110.2 21.3M787.8 348.9C885.7 251.4 1014.0 118.5 1110.0 21.7M791.3 349.6C886.8 253.2 1017.0 123.0 1114.9 22.7M792.9 348.8C889.1 250.5 1017.2 120.6 1115.0 23.7M798.4 346.7C893.6 249.1 1024.6 121.3 1123.7 22.7M797.6 349.4C897.5 249.0 1022.2 119.6 1122.4 23.0M802.3 346.6C902.7 250.4 1032.5 121.6 1127.7 21.3M803.8 348.9C898.9 250.8 1031.0 122.0 1127.3 23.8M807.4 347.4C908.7 248.4 1034.6 118.4 1134.8 24.1M809.4 348.9C906.2 250.8 1038.4 121.3 1134.2 24.0M814.9 348.3C912.2 248.5 1041.4 120.1 1139.3 23.9M814.0 348.2C911.4 249.8 1044.3 118.3 1138.8 22.6M818.2 348.8C917.9 249.8 1046.0 117.9 1144.6 22.8M821.3 349.6C916.5 248.1 1049.6 122.3 1144.2 22.9M824.7 347.1C922.9 249.9 1051.7 122.1 1151.3 24.1M826.9 349.3C925.7 251.7 1052.9 118.6 1149.2 23.3M829.7 348.8C929.7 250.4 1060.9 122.8 1154.7 24.1M831.7 346.6C927.4 252.8 1060.0 118.5 1156.6 22.7M835.9 347.4C934.1 252.2 1062.7 121.7 1162.2 22.4M836.3 349.6C935.0 248.4 1063.9 121.2 1163.5 22.4M843.1 347.4C939.6 249.5 1067.2 122.9 1163.3 24.2M844.0 348.1C938.1 252.8 1066.4 121.0 1164.1 25.9M848.0 349.5C941.3 251.4 1069.1 125.7 1163.8 30.1M849.2 347.7C944.7 255.1 1069.6 128.5 1164.9 30.9M853.0 349.7C946.6 253.4 1069.7 132.3 1165.1 37.5M853.4 348.7C945.6 252.9 1070.8 131.2 1164.9 37.0M859.7 346.2C948.9 255.1 1071.8 135.9 1165.8 42.3M859.7 347.4C950.0 255.5 1074.9 135.7 1164.1 41.8M865.9 349.4C952.7 256.2 1073.8 138.3 1165.6 46.8M866.4 348.3C957.7 259.4 1074.2 135.7 1164.7 47.3M872.6 347.1C959.9 259.0 1078.9 141.0 1166.3 52.5M869.4 346.9C959.9 260.7 1075.6 140.9 1166.1 55.6M875.0 349.7C962.2 259.8 1078.1 148.4 1163.4 59.9M875.6 346.8C963.1 259.7 1080.5 144.0 1165.5 60.1M881.0 347.1C967.3 264.4 1082.3 149.8 1165.0 65.1M880.5 349.2C965.1 263.7 1081.7 148.0 1163.3 64.5M887.1 349.3C972.0 266.4 1081.4 152.1 1165.7 69.4M888.4 347.3C970.5 262.8 1081.2 154.3 1163.7 69.6M893.7 347.7C974.0 268.9 1085.5 160.2 1166.1 75.0M894.4 348.1C972.9 265.2 1081.4 160.0 1166.0 76.7M898.5 347.7C980.0 269.8 1086.8 164.0 1165.1 80.7M898.5 346.7C978.2 267.4 1083.4 163.7 1165.9 82.8M904.7 349.1C982.9 271.3 1089.0 165.1 1164.4 87.2M905.5 347.7C983.2 269.2 1085.7 167.9 1166.3 88.7M911.5 347.3C989.3 269.1 1090.3 170.0 1163.5 92.4M910.6 348.1C984.6 273.9 1086.5 167.9 1164.7 93.7M916.7 348.5C993.1 270.9 1087.7 172.4 1166.1 99.8M917.1 346.7C988.9 273.5 1092.5 175.1 1165.1 100.1M921.4 347.9C996.3 276.0 1091.0 179.0 1164.2 106.4M921.7 349.1C995.7 274.8 1092.4 179.4 1164.5 106.1M927.5 349.7C999.9 276.7 1095.6 179.8 1163.2 111.9M926.8 348.8C1001.4 277.5 1091.3 179.7 1166.2 110.0M931.6 348.3C1002.4 276.1 1097.6 187.5 1164.4 115.2M933.3 347.8C1001.8 281.0 1097.9 186.9 1164.3 116.5M939.9 346.5C1004.6 279.7 1099.7 191.4 1163.6 121.2M940.4 347.0C1005.4 277.7 1097.3 188.5 1164.0 120.0M945.0 348.2C1011.8 282.8 1100.0 193.4 1165.4 126.7M944.3 347.2C1011.2 280.1 1100.8 195.6 1163.3 127.3M951.3 349.1C1013.3 284.8 1103.1 195.4 1165.0 131.9M948.3 347.5C1012.4 285.4 1099.6 199.7 1164.5 133.4M955.1 347.3C1019.0 287.0 1099.9 201.7 1163.8 140.4M956.5 349.7C1017.8 287.9 1102.4 204.0 1166.6 137.3M960.5 346.3C1022.8 286.2 1104.3 207.8 1166.6 143.5M963.0 349.4C1019.9 286.5 1106.3 204.1 1164.1 145.5M966.5 348.3C1027.2 286.4 1107.9 207.1 1164.1 150.8M967.7 347.5C1029.1 290.2 1105.4 211.0 1163.7 148.5M974.4 349.5C1030.5 292.9 1108.5 214.3 1165.1 154.9M973.9 347.7C1028.8 292.2 1104.7 213.6 1165.2 156.9M978.6 346.7C1032.6 291.5 1109.5 217.0 1166.5 161.1M976.5 346.5C1033.0 293.7 1111.0 219.4 1165.8 160.0M982.8 346.2C1037.6 291.1 1110.3 219.9 1165.9 167.4M984.3 349.7C1039.3 291.6 1109.2 221.0 1164.0 165.5M991.4 347.4C1040.4 294.9 1113.5 224.3 1164.3 172.6M990.7 346.9C1042.0 297.7 1110.3 226.6 1163.6 173.1M995.9 347.5C1047.6 296.9 1113.9 230.2 1163.7 178.7M995.7 347.7C1046.5 299.2 1116.8 229.5 1163.9 178.2M1000.3 347.0C1048.8 299.8 1118.5 232.6 1165.5 184.8M1002.5 347.8C1048.6 298.0 1118.4 230.8 1165.5 185.3M1005.9 347.9C1056.5 301.4 1114.8 234.8 1165.9 190.1M1005.0 347.8C1054.9 298.9 1119.4 236.7 1163.3 189.7M1013.9 347.5C1056.8 303.7 1116.5 239.7 1165.4 195.4M1011.6 349.4C1057.0 302.8 1120.9 239.0 1165.0 193.6M1018.9 347.6C1061.7 306.5 1123.1 247.3 1165.1 200.7M1018.8 348.7C1063.8 304.8 1121.6 244.0 1163.7 199.3M1022.8 349.5C1065.2 304.8 1120.2 251.6 1165.1 204.9M1025.0 349.1C1063.9 306.8 1124.2 250.6 1163.2 206.3M1030.3 346.6C1071.8 309.1 1124.4 251.5 1163.2 210.8M1030.5 346.6C1072.6 306.8 1125.7 254.6 1164.4 210.5M1035.2 349.8C1076.4 306.7 1127.3 255.5 1166.0 219.4M1034.3 347.4C1073.6 307.0 1128.7 256.9 1166.8 216.3M1041.3 348.1C1077.4 312.0 1128.8 263.0 1166.0 223.0M1039.9 349.3C1077.4 311.0 1125.4 258.7 1165.9 223.8M1045.5 346.6C1083.1 313.0 1127.8 266.1 1163.4 230.0M1047.4 348.4C1081.3 311.1 1127.5 266.8 1164.0 229.5M1052.4 349.6C1085.9 311.7 1130.0 269.0 1163.8 234.0M1051.8 349.5C1086.3 315.6 1130.3 266.1 1165.3 235.4M1059.3 349.1C1088.3 316.6 1130.8 270.2 1163.7 239.1M1057.5 346.2C1088.2 313.1 1131.5 271.4 1164.1 240.1M1062.6 347.7C1091.1 319.3 1135.7 276.7 1164.5 245.6M1061.4 347.0C1092.1 319.2 1136.6 274.7 1166.4 246.0M1068.9 348.2C1098.3 320.1 1136.8 281.3 1163.6 251.2M1068.4 346.4C1099.7 321.3 1133.9 282.1 1163.3 253.1M1073.3 347.4C1103.4 322.6 1137.2 287.0 1163.9 258.8M1073.6 348.3C1101.0 318.7 1139.5 282.9 1165.6 256.5M1078.9 347.2C1105.7 324.5 1140.9 287.0 1165.5 263.7M1080.3 346.8C1103.3 321.7 1141.6 289.5 1164.1 261.9M1084.3 347.0C1107.0 322.1 1141.6 293.1 1165.3 268.9M1084.3 349.0C1109.7 323.4 1143.7 292.0 1164.1 269.1M1091.2 348.1C1115.0 326.2 1144.1 297.3 1166.2 276.2M1093.1 349.7C1113.9 325.6 1141.5 298.1 1165.9 273.5M1096.1 348.8C1118.6 328.9 1147.3 303.2 1165.0 279.9M1098.2 347.1C1119.9 327.4 1143.9 297.9 1165.6 280.1M1102.7 348.1C1121.4 327.0 1144.6 304.1 1164.3 284.4M1102.2 348.0C1119.5 326.7 1146.7 307.0 1165.1 285.4M1107.7 347.5C1125.4 332.6 1145.4 306.4 1164.3 292.3M1107.4 347.5C1127.9 330.7 1148.4 310.9 1164.6 291.0M1114.6 348.3C1126.9 335.2 1149.9 312.8 1166.2 296.5M1112.5 348.9C1128.2 335.0 1149.0 311.2 1164.5 297.6M1121.2 347.0C1135.9 332.4 1149.9 317.9 1164.2 302.7M1118.2 347.7C1134.9 332.4 1153.5 315.6 1166.0 303.5M1126.5 347.9C1136.0 334.2 1153.1 317.9 1166.4 308.3M1124.2 349.3C1135.4 336.0 1153.0 318.2 1165.3 309.7M1130.2 349.5C1141.8 339.8 1157.3 324.8 1165.8 314.1M1129.5 349.3C1139.3 337.9 1155.3 324.0 1163.8 313.1M1136.6 346.7C1144.2 341.3 1158.9 330.5 1165.8 319.9M1138.5 346.4C1143.9 340.8 1158.7 326.3 1164.6 319.5M1142.4 349.7C1147.0 341.0 1158.3 333.7 1166.4 325.2M1141.3 347.2C1149.8 339.0 1159.6 331.8 1166.7 323.6M1149.6 347.0C1150.7 340.7 1157.6 335.5 1166.4 330.1M1149.7 347.5C1153.2 343.1 1157.7 336.6 1165.8 329.4M1153.5 347.5C1155.5 342.9 1159.7 339.1 1166.0 337.3M1154.1 349.3C1155.5 345.9 1162.7 340.0 1166.3 337.7M1160.1 348.1C1160.3 346.5 1163.6 344.8 1164.5 341.9M1158.7 347.3C1160.5 347.1 1162.5 344.7 1165.7 342.0" stroke="#ffc4e2" stroke-width="0.95" fill="none" stroke-opacity="1.0"/><rect x="632.5" y="22.5" width="533.0" height="326.0" fill="none" stroke="#333" stroke-width="1.1"/><path d="M630.3 393.9C631.0 393.1 632.3 391.9 632.9 390.6M629.7 393.6C630.4 392.7 632.3 391.9 632.9 390.7M629.7 400.5C632.8 398.1 635.5 393.3 638.7 390.4M630.2 400.5C632.8 396.4 635.9 394.2 638.8 390.3M628.3 405.2C636.0 400.7 640.6 394.1 643.5 391.4M629.1 405.2C635.7 400.9 639.1 393.9 644.3 390.0M631.2 412.2C633.6 405.6 641.3 398.9 651.4 390.1M630.6 410.2C634.1 404.1 645.4 397.9 649.6 391.7M630.3 415.0C635.1 409.6 648.2 400.9 654.4 390.1M630.2 418.0C636.5 408.6 650.2 398.6 655.3 391.1M628.2 421.6C639.4 412.6 654.1 401.8 660.0 391.4M628.5 420.4C640.2 412.8 649.3 400.1 661.8 391.3M631.2 428.1C643.2 417.0 653.9 403.1 665.1 389.6M631.5 429.1C638.8 416.5 657.4 401.2 667.3 392.1M628.7 434.7C640.4 421.0 662.1 404.4 673.2 389.2M631.4 432.0C641.8 418.8 659.5 401.3 672.7 389.9M630.6 439.6C642.1 426.7 663.9 407.8 679.5 392.0M630.0 437.6C647.0 424.9 665.8 405.4 678.8 389.8M629.4 445.3C644.9 428.2 668.8 405.7 684.5 390.9M628.8 444.7C644.9 431.2 666.4 408.6 684.3 389.4M629.3 448.9C649.3 430.1 672.7 409.5 689.3 392.3M629.9 451.0C648.9 430.6 670.6 410.7 689.5 389.9M630.2 456.1C648.9 436.8 673.0 409.7 695.8 391.0M628.3 457.8C647.7 438.5 674.4 412.2 696.5 391.6M630.5 462.1C653.0 440.7 680.9 414.0 701.6 390.2M629.1 461.4C653.2 441.5 679.4 412.5 700.2 389.5M631.4 465.8C653.1 444.4 682.2 412.4 705.9 391.7M630.6 466.8C655.4 443.3 683.5 411.8 707.9 392.4M629.5 471.5C656.0 447.7 686.2 417.9 712.0 392.6M628.4 474.3C657.0 449.2 686.8 415.2 713.3 389.4M630.4 478.8C655.4 449.7 692.9 418.1 719.0 392.4M630.6 477.1C655.6 452.2 693.9 415.7 716.2 392.4M630.5 482.8C656.2 457.7 697.9 420.8 723.6 391.9M631.0 485.9C659.8 458.0 696.0 419.9 724.1 391.2M628.8 489.4C661.2 459.2 702.0 418.3 728.4 392.3M628.4 489.4C658.9 459.7 701.2 420.9 727.5 392.6M630.5 495.4C660.2 464.4 703.1 420.5 734.5 392.6M628.7 495.7C659.0 466.6 701.3 424.5 735.7 390.8M628.4 501.8C662.7 469.6 706.9 423.7 739.0 390.1M629.6 501.4C661.4 466.2 707.5 423.3 739.5 392.6M630.8 505.3C667.1 471.1 710.8 424.8 746.6 390.5M630.1 506.2C665.9 471.1 710.9 426.1 746.6 390.7M630.8 513.2C664.4 474.2 713.4 425.8 751.4 389.5M630.6 512.0C665.1 474.4 713.2 428.5 753.1 390.0M630.3 517.4C667.8 480.7 719.9 428.9 758.4 391.6M628.5 517.8C668.9 477.9 720.6 431.2 758.9 390.5M629.5 523.5C668.3 482.0 724.1 430.9 763.0 390.1M631.6 525.6C671.7 481.5 721.1 433.5 764.3 392.6M631.3 530.0C671.2 486.1 727.3 431.4 769.0 390.8M628.6 530.9C670.5 488.4 725.8 434.4 768.9 392.4M629.0 535.8C671.0 491.9 731.1 436.0 774.4 390.4M628.9 534.1C671.8 492.7 728.4 432.0 773.5 392.1M630.7 540.9C677.4 495.3 735.2 435.5 778.5 390.9M630.0 539.3C674.1 494.8 733.2 438.3 781.3 391.3M631.2 546.1C675.1 497.4 740.2 435.8 785.9 391.2M630.2 544.8C677.5 500.5 741.5 438.5 783.8 389.8M630.1 550.5C680.3 501.4 744.7 439.2 792.9 391.0M629.0 551.9C676.8 504.9 741.1 440.4 789.7 391.3M630.4 558.6C681.1 507.3 748.9 442.8 798.5 390.3M630.9 558.2C682.6 510.2 745.9 442.8 796.0 392.5M630.6 564.8C681.2 513.4 751.6 443.0 803.6 390.8M631.3 561.8C679.6 513.6 748.5 444.8 800.8 390.9M629.0 567.9C683.0 516.3 755.0 446.9 809.1 391.6M630.0 569.3C684.5 513.6 755.8 446.8 808.1 390.7M630.9 575.0C683.0 519.9 760.7 448.1 813.3 389.6M628.9 575.7C687.1 518.0 757.8 446.2 815.0 390.9M630.8 580.3C686.3 523.2 761.2 447.8 818.8 392.3M630.7 580.0C684.2 526.1 761.5 448.1 820.1 391.0M631.7 585.1C686.7 529.5 766.7 447.1 823.6 389.9M629.2 586.2C690.7 527.3 765.2 450.1 824.0 390.3M628.6 591.9C690.5 530.5 771.9 451.9 831.4 389.5M631.5 592.2C691.3 533.2 768.2 450.8 829.7 389.9M629.2 597.4C693.3 537.0 773.3 453.6 837.8 391.2M629.6 597.4C690.2 537.4 772.7 451.9 836.6 391.6M631.3 604.9C691.1 542.0 776.9 452.1 841.7 392.6M630.9 601.9C691.6 538.7 776.2 454.5 843.0 389.2M629.4 609.6C697.2 541.7 784.7 458.5 847.8 392.7M630.2 608.9C693.8 541.8 783.1 455.4 846.6 390.4M631.0 614.7C698.9 547.5 787.1 456.6 854.6 389.5M630.7 614.1C695.1 546.3 787.8 455.4 854.2 391.3M630.5 620.3C698.6 551.2 791.7 457.4 859.9 390.4M630.0 619.2C697.1 549.9 792.5 459.0 859.4 390.1M631.4 626.6C697.8 557.7 795.0 459.3 863.9 391.2M630.1 625.7C702.6 556.0 792.0 463.1 865.4 390.2M631.4 630.7C704.2 557.0 800.1 461.8 871.2 392.3M631.1 632.1C703.8 562.0 800.8 463.5 870.3 392.4M630.8 637.7C703.9 561.7 801.0 466.7 875.7 391.0M631.2 637.8C704.2 564.1 799.6 464.5 876.8 391.0M631.7 641.7C704.2 569.0 803.7 468.1 881.6 389.5M631.1 644.1C704.8 566.9 808.6 466.8 880.9 392.6M630.7 647.0C705.1 572.9 808.8 470.7 885.6 390.2M630.6 647.3C707.4 568.9 812.0 469.8 888.1 390.3M630.3 654.7C708.0 576.4 814.5 467.9 892.5 389.7M629.1 654.0C708.6 573.2 816.2 467.9 891.3 389.4M630.9 660.8C713.3 579.7 817.5 474.2 898.0 391.2M629.1 661.3C709.6 579.9 820.2 472.6 898.0 390.7M628.9 667.1C714.2 580.9 822.6 474.9 905.2 391.0M631.0 666.0C711.1 583.6 821.5 473.1 902.8 390.9M630.1 671.3C712.8 585.3 823.9 476.9 911.4 390.2M631.5 669.7C716.0 589.6 828.7 473.9 909.5 392.5M628.4 675.8C714.4 590.8 831.0 474.8 915.7 389.3M628.6 676.1C713.6 592.6 832.0 474.2 914.2 389.6M631.1 683.6C719.1 592.7 831.5 480.9 921.9 390.3M629.0 683.8C715.2 595.7 832.0 479.3 922.2 389.4M630.6 687.0C721.1 599.6 838.9 480.8 926.9 390.0M628.4 689.4C719.6 598.8 839.3 480.3 928.0 391.1M629.2 693.7C720.9 604.8 843.0 480.2 931.6 389.2M630.0 693.9C720.8 603.9 843.9 481.9 932.9 390.9M631.0 699.9C721.5 606.0 845.8 482.4 936.9 390.1M631.8 700.1C724.8 605.0 846.5 486.0 937.8 391.7M629.6 706.3C722.3 612.4 849.3 484.4 945.0 390.4M629.9 705.8C725.6 609.0 849.1 482.5 945.4 392.5M633.5 705.4C727.1 612.3 854.6 484.1 948.5 390.9M635.3 705.4C730.5 613.5 854.0 484.2 947.9 392.2M641.0 704.7C735.0 609.1 859.6 485.1 956.9 391.6M642.0 704.7C737.3 612.8 862.5 486.8 955.6 389.5M644.8 705.1C738.2 609.8 864.7 487.8 959.3 391.2M647.0 705.2C738.5 610.9 868.1 483.3 962.6 389.8M652.6 706.2C743.6 609.3 873.3 485.5 967.7 390.4M652.5 704.9C748.0 612.6 870.2 486.7 965.8 390.0M655.6 705.9C752.9 612.5 876.1 483.0 971.4 392.0M657.7 706.7C753.9 610.8 877.8 486.3 970.5 392.2M664.4 706.5C757.3 609.0 883.7 485.0 978.0 392.0M662.3 705.6C758.7 613.6 883.2 487.4 976.9 390.3M667.2 706.1C762.4 609.7 891.5 486.1 984.4 392.0M669.1 705.4C762.5 613.6 889.9 486.9 982.2 391.3M674.5 706.9C769.1 612.0 893.0 483.3 987.9 392.8M674.9 706.8C768.6 612.9 895.5 487.7 989.8 390.1M678.4 707.0C774.6 609.2 899.9 486.4 993.1 391.5M681.2 704.5C772.3 613.6 902.7 484.6 994.9 392.1M684.5 704.7C781.1 613.9 906.3 487.9 999.5 390.7M685.3 706.6C777.4 609.5 907.7 483.4 998.7 390.7M690.5 706.1C783.6 612.5 911.2 483.3 1006.3 389.3M691.1 705.5C784.0 609.2 912.0 488.0 1008.0 389.4M697.8 704.6C793.9 612.6 917.9 484.2 1012.0 390.5M696.6 706.1C789.1 611.1 920.0 485.0 1011.4 391.2M702.5 706.9C796.4 612.6 921.4 486.1 1018.6 391.9M700.8 704.9C798.3 608.9 925.0 483.3 1016.3 390.5M709.8 707.6C805.0 611.2 930.6 483.0 1023.6 392.2M709.2 706.5C800.4 611.6 929.2 486.5 1024.1 389.7M712.7 706.2C810.0 614.0 935.2 485.2 1030.5 390.1M713.5 705.9C807.1 609.7 936.5 484.8 1027.5 389.5M720.8 706.2C815.1 611.2 938.6 485.8 1035.9 392.4M718.8 707.2C813.1 611.1 940.2 488.1 1032.8 391.5M726.9 705.5C819.8 611.8 944.0 487.1 1041.8 392.6M725.1 706.9C820.7 611.8 943.6 485.3 1041.6 391.4M729.2 704.9C823.3 611.1 948.9 486.1 1047.5 390.6M729.8 705.0C822.7 612.7 951.7 485.4 1046.3 392.5M736.2 704.2C830.0 614.2 956.1 487.4 1050.9 391.1M737.6 707.1C832.8 609.4 955.4 482.9 1051.4 391.0M742.1 705.8C836.1 611.5 960.5 486.9 1058.7 392.6M742.2 704.8C834.9 611.4 965.3 483.5 1058.4 389.4M746.9 707.0C839.7 610.1 967.2 487.4 1062.2 392.5M746.3 706.6C843.9 609.1 968.2 484.0 1064.1 392.7M752.0 705.1C845.9 610.3 971.6 487.8 1069.3 391.3M754.3 705.9C846.3 610.2 972.2 486.2 1070.1 392.7M759.4 706.1C852.6 612.4 982.0 483.1 1075.0 391.1M759.0 704.7C855.4 612.4 982.0 485.9 1075.0 390.8M765.1 707.7C857.1 613.8 982.9 487.8 1080.8 390.4M766.3 706.6C860.5 612.0 983.7 483.2 1081.3 391.4M771.3 705.8C863.6 610.2 992.9 486.1 1084.0 391.2M771.3 707.1C864.5 610.7 992.4 487.6 1085.1 390.8M775.3 706.8C871.5 613.0 995.6 488.2 1090.0 389.2M776.8 705.4C868.6 613.7 996.2 484.3 1092.0 392.2M781.3 706.1C873.8 612.2 1003.4 486.6 1096.8 390.3M781.3 707.3C873.6 611.8 1002.3 484.0 1095.0 389.7M787.4 704.2C883.9 609.2 1008.7 485.5 1100.7 392.7M787.5 707.2C882.8 613.7 1005.8 487.2 1102.9 392.6M792.4 707.5C888.9 610.9 1013.6 487.0 1109.1 392.7M791.4 706.1C886.7 612.1 1014.8 484.9 1108.2 391.8M799.3 707.5C893.1 613.3 1017.9 484.3 1113.2 391.1M798.3 706.5C893.2 612.7 1018.7 482.9 1112.4 392.7M803.9 706.3C899.3 611.3 1022.3 484.1 1117.8 392.7M803.7 706.5C897.6 611.8 1025.8 485.6 1118.1 390.9M810.9 706.4C904.4 612.9 1032.8 484.7 1123.5 391.6M811.2 705.0C906.2 611.2 1030.2 485.5 1125.5 389.2M815.2 705.0C907.7 610.3 1038.5 484.3 1131.3 391.5M814.9 706.3C912.7 609.5 1034.6 483.7 1130.2 392.6M821.1 705.2C913.5 608.9 1039.7 484.5 1136.9 392.4M820.0 705.8C918.3 614.1 1041.4 486.3 1135.8 391.8M825.6 706.4C919.5 609.7 1049.6 486.6 1143.3 392.4M827.9 704.4C922.7 613.1 1046.5 482.8 1142.4 389.3M833.4 707.8C926.2 613.2 1055.6 484.8 1148.0 390.5M831.6 707.8C926.1 612.7 1055.7 485.3 1147.3 390.8M839.5 705.6C935.3 612.9 1059.9 487.3 1153.0 392.1M839.8 707.6C930.1 611.6 1058.0 482.8 1153.4 390.6M845.7 705.3C937.7 613.0 1065.4 486.4 1160.5 389.3M843.9 704.5C938.3 611.8 1066.1 485.5 1160.1 391.9M849.5 705.9C943.2 613.0 1069.4 486.4 1165.4 391.8M849.1 707.4C943.4 610.7 1069.7 486.1 1166.2 392.0M853.6 706.2C950.9 612.9 1076.2 489.0 1168.5 392.7M856.0 706.9C950.7 614.5 1074.7 486.2 1166.7 392.9M860.9 706.1C952.5 616.8 1075.9 494.3 1166.5 399.8M862.4 704.8C953.2 614.5 1076.5 490.6 1168.0 399.5M867.2 705.5C957.5 618.5 1075.7 493.0 1168.0 405.5M868.0 706.1C958.8 615.2 1079.5 495.1 1167.5 406.7M873.0 707.2C959.9 616.7 1078.1 501.5 1166.5 410.9M870.6 707.8C961.4 616.5 1080.0 501.7 1168.0 411.4M877.4 706.0C966.5 620.0 1080.0 504.4 1166.0 416.0M876.7 704.2C962.9 619.5 1079.3 502.3 1166.5 417.1M884.4 705.5C967.9 618.4 1083.8 507.8 1167.9 423.4M883.8 706.7C965.9 623.5 1082.6 507.1 1167.2 424.0M890.6 707.4C973.2 622.2 1084.1 513.3 1167.3 426.4M887.8 707.2C970.0 620.5 1082.4 511.7 1166.3 427.3M896.4 704.8C977.2 623.6 1086.3 513.6 1166.2 433.4M893.2 706.3C974.0 625.3 1083.0 517.8 1167.8 432.5M901.2 704.8C978.2 625.2 1089.1 521.7 1166.7 437.9M901.4 706.5C981.3 626.0 1086.5 521.3 1167.3 439.5M905.4 705.7C983.6 627.4 1088.2 521.8 1167.6 446.8M905.6 707.0C983.2 628.2 1090.2 521.3 1165.9 445.1M911.7 704.9C986.9 628.0 1089.4 526.4 1167.5 451.4M913.2 707.3C988.1 627.8 1090.2 529.8 1168.0 450.4M916.0 705.6C991.2 631.1 1089.7 532.3 1165.9 457.7M917.5 707.1C991.0 629.8 1092.7 528.9 1167.8 457.3M924.7 706.8C994.0 633.1 1095.3 533.2 1167.0 461.6M921.7 706.7C995.8 635.4 1095.8 534.3 1166.9 463.2M928.9 706.3C1001.3 636.3 1094.2 539.3 1166.8 468.9M928.9 706.3C1000.0 632.7 1097.4 539.5 1165.3 468.9M935.3 706.9C1001.8 635.3 1095.4 543.9 1167.4 474.9M933.4 704.3C1004.4 636.0 1097.0 540.6 1165.7 472.3M940.2 705.1C1006.3 637.4 1097.1 547.0 1165.5 477.5M938.9 706.8C1005.8 640.4 1096.7 548.0 1168.4 478.4M946.7 705.9C1013.3 641.8 1102.8 553.0 1168.4 483.5M945.5 706.0C1010.8 637.1 1099.0 549.2 1168.3 484.3M952.9 705.3C1017.1 641.0 1100.2 554.3 1166.5 492.1M950.6 707.6C1014.8 638.9 1104.5 552.8 1166.7 492.1M958.1 706.3C1019.7 645.6 1104.3 561.4 1166.2 497.3M958.6 705.6C1020.9 640.4 1105.0 560.5 1167.7 496.9M961.6 704.5C1021.9 646.6 1105.3 565.7 1165.4 501.9M963.6 705.7C1024.6 646.7 1107.8 562.0 1165.9 501.4M966.7 706.6C1029.6 648.1 1108.1 568.7 1167.7 507.9M967.0 707.6C1026.2 647.2 1106.4 569.3 1167.6 505.9M973.2 705.9C1030.9 650.2 1110.3 571.3 1167.0 514.6M975.6 707.4C1029.5 646.6 1109.9 568.8 1167.9 513.2M980.2 705.4C1037.7 651.1 1110.5 575.1 1166.6 519.8M981.4 707.5C1038.0 647.4 1108.7 575.7 1167.4 517.2M984.2 706.9C1042.0 654.2 1113.3 581.4 1167.7 523.1M986.4 705.9C1040.9 649.3 1111.8 579.9 1168.2 525.9M990.5 704.8C1043.7 651.0 1115.4 581.2 1166.8 528.7M992.6 704.6C1042.2 653.9 1114.5 583.4 1167.5 530.5M995.5 705.9C1046.4 654.0 1117.9 584.3 1168.2 536.1M996.6 706.0C1045.6 656.7 1115.7 585.6 1166.7 533.9M1002.1 704.4C1053.1 655.0 1116.6 588.4 1165.5 542.5M1001.7 706.1C1053.6 659.3 1118.0 588.2 1167.9 541.3M1006.6 706.6C1053.3 655.9 1122.0 594.2 1165.7 548.4M1008.2 706.3C1055.0 659.6 1120.8 595.7 1165.6 546.4M1012.5 705.9C1058.8 660.6 1123.7 596.1 1168.5 551.4M1014.3 705.9C1057.5 660.5 1120.0 600.0 1167.1 553.8M1020.1 705.7C1064.7 662.0 1124.0 605.0 1165.7 559.2M1018.4 706.7C1065.8 660.7 1125.1 603.0 1168.1 557.4M1026.6 707.4C1067.3 663.9 1126.0 606.1 1168.0 563.5M1026.4 705.0C1065.8 662.3 1121.9 606.9 1167.1 562.7M1031.0 705.6C1072.5 662.8 1125.2 607.9 1168.1 569.8M1029.4 707.3C1070.9 666.0 1128.1 612.3 1165.7 569.9M1037.9 707.7C1076.9 665.6 1126.8 614.6 1166.6 577.0M1037.5 704.6C1076.0 666.3 1127.1 614.0 1168.4 575.9M1042.7 705.8C1077.2 665.9 1131.9 616.8 1167.8 582.3M1043.0 705.7C1079.0 669.0 1127.1 615.8 1166.0 579.1M1046.8 707.4C1082.9 669.7 1132.3 621.2 1167.9 585.7M1047.0 706.0C1084.7 670.2 1128.8 621.6 1166.1 586.3M1053.5 705.0C1086.6 670.2 1134.9 624.0 1166.6 592.4M1054.7 704.5C1086.9 672.5 1134.9 625.4 1167.2 592.4M1057.3 704.9C1092.7 673.0 1133.6 631.3 1168.4 598.2M1059.1 707.5C1092.3 675.8 1134.4 631.9 1165.8 597.3M1063.1 706.5C1094.2 673.6 1135.0 635.5 1166.4 604.2M1065.3 707.5C1096.9 673.9 1137.4 634.2 1166.7 602.0M1070.0 704.3C1099.0 679.0 1139.6 638.4 1166.0 610.1M1071.9 704.2C1096.8 679.0 1136.1 638.7 1166.6 609.3M1075.0 705.6C1101.4 679.6 1140.3 639.9 1166.9 614.1M1077.5 704.6C1102.5 678.6 1141.8 640.0 1166.0 614.1M1081.8 706.4C1106.9 682.4 1142.8 646.0 1166.1 620.0M1080.0 705.5C1106.6 681.1 1138.9 647.0 1168.1 620.3M1087.8 704.6C1109.8 682.2 1142.2 650.4 1166.7 627.4M1086.8 705.4C1113.8 681.2 1142.9 649.4 1168.5 626.9M1094.1 705.5C1115.3 682.5 1147.0 653.4 1167.6 630.7M1094.4 706.2C1117.4 684.8 1146.5 654.4 1166.4 632.0M1098.9 704.7C1119.8 684.4 1147.9 658.2 1168.2 638.0M1097.8 707.8C1120.9 686.5 1145.8 660.5 1168.0 638.1M1105.6 706.6C1120.5 689.2 1149.9 662.5 1166.8 643.1M1104.0 707.1C1121.6 687.7 1147.4 662.6 1165.3 642.8M1111.2 705.7C1128.8 688.7 1149.5 663.4 1165.6 647.0M1108.4 704.2C1126.0 688.7 1150.2 664.5 1168.4 647.2M1116.0 706.5C1129.8 688.4 1150.4 668.4 1168.7 653.0M1113.8 707.1C1132.6 692.1 1149.0 670.4 1166.2 655.3M1122.4 706.5C1136.6 692.4 1152.4 673.8 1167.4 659.8M1121.0 704.9C1135.7 689.6 1152.7 675.3 1167.6 661.3M1125.4 706.0C1137.9 691.3 1156.0 676.0 1167.7 665.9M1127.1 706.1C1141.4 695.3 1156.9 676.1 1167.8 664.4M1133.2 705.6C1142.3 698.0 1156.3 681.6 1167.7 672.1M1133.2 704.7C1144.9 693.7 1154.6 682.3 1168.4 670.8M1137.1 705.8C1148.0 698.3 1156.3 683.3 1165.9 677.9M1138.4 704.5C1149.1 699.0 1159.2 687.5 1167.8 677.2M1143.8 705.2C1151.6 699.7 1160.1 689.5 1165.4 683.5M1145.2 705.6C1152.1 701.2 1162.6 689.4 1165.7 684.4M1148.1 706.0C1156.2 699.4 1164.3 692.1 1167.0 688.0M1148.6 707.2C1153.4 700.2 1161.6 692.3 1166.0 689.2M1156.0 707.3C1156.5 702.1 1164.5 697.8 1168.3 693.0M1156.4 707.5C1158.2 700.4 1162.9 698.8 1167.6 693.3M1160.4 705.5C1162.9 703.2 1164.9 700.9 1167.1 700.3M1161.2 705.9C1162.1 704.0 1166.3 701.1 1166.9 700.3" stroke="#ffff60" stroke-width="0.8" fill="none" stroke-opacity="1.0"/><rect x="629.5" y="390.5" width="538.0" height="316.0" fill="none" stroke="#333" stroke-width="1.1"/><path d="M632.0 744.9C632.8 744.3 634.0 743.1 634.7 742.1M632.1 745.0C632.7 743.8 633.5 743.1 634.7 741.7M632.1 750.4C633.3 748.6 636.5 745.7 640.9 741.1M632.0 751.5C634.0 747.7 638.8 744.4 641.3 741.8M632.8 757.9C637.6 751.9 642.3 745.8 647.0 742.0M633.6 757.9C634.1 752.3 644.2 744.9 646.4 742.2M633.0 760.9C638.5 757.3 643.3 749.8 652.6 741.2M632.1 760.9C639.2 754.1 643.5 746.5 651.1 742.2M632.5 767.1C638.9 760.3 647.9 750.2 658.4 742.8M632.5 766.5C642.2 760.1 652.1 750.5 658.1 740.7M631.0 773.9C642.4 765.2 654.7 749.8 663.5 741.6M633.7 774.6C644.0 762.9 652.1 750.0 662.9 743.5M632.0 777.5C640.4 768.3 657.2 754.2 667.8 742.8M631.1 778.7C645.0 767.0 656.6 755.4 667.7 740.3M631.5 784.6C646.8 773.5 663.4 757.0 673.1 741.7M631.0 782.8C645.0 771.0 662.8 753.2 673.1 742.5M632.4 789.8C644.7 777.3 667.1 756.1 678.8 743.0M631.8 789.0C645.7 776.0 664.9 755.2 678.8 742.7M630.8 796.7C650.1 777.8 668.2 756.3 685.5 740.7M632.2 796.7C649.2 781.4 669.2 757.8 684.1 743.5M630.5 800.5C652.0 785.4 675.8 757.9 692.7 741.2M631.7 802.6C647.2 783.8 673.8 758.3 690.7 741.1M631.1 807.5C653.5 787.1 675.5 761.9 695.9 743.0M631.3 805.6C650.3 786.2 678.7 763.8 697.8 742.2M631.5 813.0C653.6 790.4 682.1 763.4 701.7 741.9M630.4 811.3C653.5 792.0 682.2 765.3 702.4 740.7M632.4 819.3C657.2 796.0 687.2 765.2 707.0 743.3M631.8 817.1C656.5 797.6 685.6 767.3 708.3 742.8M631.5 822.3C658.1 798.0 686.9 767.8 713.8 742.1M630.9 825.3C656.7 800.9 687.9 769.1 714.3 740.7M630.4 828.4C658.9 805.7 691.8 765.9 720.0 742.6M632.1 829.1C660.4 802.2 694.4 768.7 719.3 741.6M631.2 836.8C658.3 808.4 698.4 769.3 724.5 741.3M630.6 835.7C660.8 804.6 694.9 771.7 724.8 742.2M633.3 839.5C663.5 810.3 703.8 769.5 730.0 741.7M633.5 839.4C662.9 813.5 700.5 774.2 731.4 743.7M633.5 845.8C661.8 814.7 706.7 773.8 737.6 743.5M633.5 846.4C662.2 817.3 704.0 775.5 736.5 740.8M633.1 852.6C663.0 821.0 711.7 777.6 741.6 740.2M631.2 853.9C667.3 820.9 710.2 773.9 742.1 741.5M630.6 856.8C667.2 822.2 711.6 778.8 747.1 740.9M631.5 856.2C664.2 823.5 710.6 776.6 746.2 742.2M632.4 863.8C671.0 828.8 719.5 781.0 752.6 743.2M631.5 863.8C666.7 825.7 716.9 778.7 753.3 743.0M633.8 868.7C672.2 828.9 721.2 780.7 757.5 741.6M633.2 868.7C672.7 831.4 720.2 781.0 759.7 743.6M632.8 875.6C673.0 834.3 723.6 779.7 765.6 741.6M632.2 873.7C671.2 834.6 727.6 782.0 764.2 741.3M632.2 880.2C673.7 839.1 728.2 781.9 770.8 743.1M631.0 879.1C673.1 839.4 726.9 785.0 769.8 740.3M631.8 886.7C676.2 840.9 733.2 784.0 776.0 743.1M632.9 885.8C677.9 840.9 731.6 787.6 775.3 740.3M630.4 891.6C678.5 849.5 736.0 784.7 781.7 742.6M631.0 890.1C679.1 844.8 735.7 789.1 781.1 742.4M632.3 897.2C677.1 851.5 738.5 788.7 786.0 740.4M633.1 895.8C679.3 852.2 741.9 788.3 786.8 741.7M631.4 903.7C680.5 855.3 745.8 790.3 793.1 743.5M632.0 903.8C679.3 854.8 747.4 792.1 793.6 743.8M632.2 908.2C681.7 858.4 747.5 792.0 797.7 741.7M632.3 907.4C680.4 857.5 746.3 791.9 799.4 742.8M632.6 914.2C681.3 860.4 752.8 796.1 804.9 742.4M632.7 914.3C684.5 864.2 752.2 791.5 803.7 740.7M631.2 920.9C687.5 866.1 754.2 793.9 811.2 741.6M633.4 920.9C684.9 866.6 754.2 797.7 808.7 741.2M632.1 925.0C689.5 871.9 762.6 799.2 814.2 742.3M632.6 924.3C686.7 869.2 758.4 799.1 815.2 742.3M632.6 930.8C686.9 875.4 763.2 801.0 821.4 743.3M633.1 933.1C687.9 873.9 767.1 801.4 821.1 742.0M633.8 938.6C692.8 878.2 770.9 802.2 827.1 742.6M631.2 936.7C689.2 877.0 766.5 802.8 827.8 740.8M633.8 944.0C693.3 882.3 772.7 800.2 832.8 742.9M631.1 942.3C690.9 881.2 774.6 803.8 832.3 742.6M633.6 949.5C695.7 888.2 775.1 803.8 837.4 742.0M632.3 946.7C694.8 886.2 776.9 804.1 837.6 742.9M631.4 952.6C695.3 891.9 782.3 806.7 845.0 743.0M633.1 955.8C695.4 892.0 781.8 803.5 842.5 743.6M632.3 958.3C696.7 893.2 786.1 808.1 850.6 741.4M631.3 960.7C697.9 895.9 785.1 810.0 848.7 743.1M632.7 965.3C697.9 897.4 790.0 810.8 855.8 742.2M633.7 966.1C700.1 899.2 790.8 810.4 855.5 741.6M631.6 970.3C700.3 901.8 790.0 810.7 859.5 743.0M633.4 970.3C701.6 902.9 791.0 811.7 862.0 742.9M632.3 978.4C704.6 907.0 795.5 813.2 866.8 741.5M630.7 975.6C704.1 904.8 796.2 811.0 868.1 741.9M633.1 982.8C702.6 908.7 801.3 813.1 872.0 741.6M630.6 982.0C703.5 909.8 802.8 815.3 872.2 743.8M631.9 987.7C705.7 915.0 802.1 815.7 877.1 740.7M630.8 988.4C707.3 913.7 803.6 813.5 877.5 742.6M631.0 994.2C710.1 920.4 807.5 817.7 884.8 740.7M632.6 993.1C707.4 917.9 808.6 815.4 883.2 742.8M631.9 998.6C710.3 922.3 812.2 820.1 888.2 742.1M631.7 1001.1C709.6 923.2 811.5 818.7 888.4 740.2M631.4 1004.1C709.7 926.5 815.9 818.9 896.1 743.3M632.8 1005.2C713.1 924.8 814.0 822.6 896.8 743.5M630.6 1011.4C710.2 927.9 822.1 822.7 899.5 742.7M631.8 1012.4C713.7 929.5 819.9 821.6 901.7 741.0M631.0 1015.6C716.3 933.4 824.4 826.0 905.5 740.9M632.6 1015.1C716.1 933.1 825.8 825.1 908.0 743.6M630.3 1021.6C718.4 939.6 829.8 828.6 912.7 742.2M631.4 1023.5C713.8 938.0 827.7 823.7 910.2 743.1M632.5 1028.7C719.2 942.1 829.4 826.7 916.7 741.1M633.6 1026.9C719.8 943.6 831.3 828.6 916.9 741.8M630.3 1031.8C717.5 943.5 837.8 827.7 922.9 742.5M630.4 1031.8C719.8 946.8 834.8 829.5 921.8 741.2M631.4 1039.3C718.4 952.2 838.3 831.4 927.6 742.4M630.9 1038.8C722.6 951.7 842.4 830.9 928.1 742.5M632.2 1044.1C725.3 951.4 845.2 831.8 933.9 742.0M632.4 1043.8C721.8 953.6 841.2 830.6 935.4 742.0M633.5 1048.8C722.0 960.1 846.2 837.0 939.9 742.6M631.8 1050.6C724.5 959.2 849.4 835.8 940.7 740.5M632.6 1054.6C723.7 963.2 849.6 836.5 945.6 742.0M631.2 1054.7C727.4 962.3 852.1 838.2 947.6 742.4M635.0 1056.6C730.5 964.8 855.7 835.3 950.6 742.3M638.1 1057.8C732.4 960.6 858.3 835.0 951.4 741.5M643.4 1055.5C734.2 960.7 865.0 838.2 958.8 743.3M641.5 1058.1C737.8 962.0 860.8 838.4 957.6 741.1M648.7 1056.1C741.7 961.2 868.6 838.9 962.7 742.7M646.5 1056.1C745.1 959.8 869.2 834.5 962.9 743.7M652.5 1055.7C750.6 961.8 876.2 837.5 968.6 743.8M652.1 1058.4C746.1 964.7 874.2 836.6 967.8 743.7M658.1 1057.0C756.3 962.7 881.9 834.5 975.2 742.2M660.1 1057.4C753.5 964.2 878.4 835.8 975.6 741.4M666.1 1057.5C760.8 962.0 884.0 835.9 979.9 740.3M663.6 1058.2C760.3 960.7 885.0 839.2 981.0 743.7M668.8 1056.4C763.8 963.1 888.7 838.5 984.3 740.8M670.3 1055.8C764.2 962.5 888.9 835.7 984.1 742.1M676.2 1055.5C771.2 960.5 897.4 834.2 991.2 743.2M674.9 1055.2C769.5 960.5 898.8 834.6 991.3 740.8M682.5 1058.1C775.5 964.2 903.4 834.2 996.7 742.3M682.6 1055.7C776.3 963.3 903.6 835.6 996.8 740.9M685.9 1056.8C782.7 963.9 908.8 838.9 1004.0 742.2M689.2 1057.9C780.8 963.6 908.5 838.5 1003.6 740.7M694.2 1056.4C785.6 962.5 912.5 836.0 1007.0 742.6M693.7 1057.5C789.8 963.6 915.9 837.1 1008.6 740.4M699.4 1058.4C790.9 959.9 920.5 838.4 1014.7 742.5M698.4 1056.0C794.7 960.5 917.7 834.9 1013.6 743.2M705.4 1056.1C797.3 962.0 923.0 838.5 1020.9 741.7M702.8 1056.7C797.5 965.1 926.9 836.1 1019.1 740.3M711.5 1058.5C805.0 962.6 931.8 837.0 1026.4 742.8M711.9 1055.8C804.3 964.4 929.5 835.9 1026.6 742.9M716.1 1058.7C811.2 964.8 935.2 837.4 1029.9 743.3M717.2 1058.4C811.0 962.8 934.6 836.6 1031.5 743.2M723.2 1058.6C814.6 964.3 940.2 837.9 1034.8 741.3M720.4 1056.4C816.4 961.3 943.3 834.2 1038.2 740.7M727.8 1056.1C822.5 960.0 950.0 837.2 1043.8 741.4M728.6 1057.9C821.0 960.9 949.7 837.4 1040.5 742.9M732.2 1055.5C825.9 960.1 951.5 837.8 1048.3 740.4M731.9 1058.8C828.6 963.3 953.8 834.6 1047.0 743.1M739.6 1058.5C830.7 961.2 961.5 835.5 1053.5 740.9M737.6 1057.1C834.4 961.5 956.4 838.7 1051.8 743.0M745.2 1058.0C839.4 960.0 967.2 837.6 1058.1 743.6M743.0 1058.4C836.0 961.0 966.2 833.9 1059.4 742.5M748.6 1055.5C845.8 962.2 971.8 838.7 1065.0 740.7M751.4 1055.9C843.3 964.9 969.4 837.2 1064.3 743.1M754.5 1057.8C851.1 964.3 974.0 834.7 1069.6 741.7M754.4 1058.0C851.6 961.1 975.9 833.8 1071.0 742.8M760.5 1057.4C854.0 962.2 982.6 835.0 1075.2 743.1M761.7 1056.6C856.4 964.2 982.5 838.5 1074.4 740.6M767.3 1058.0C861.4 960.7 985.8 834.3 1082.9 742.3M765.3 1056.6C863.0 961.3 989.3 838.3 1081.0 742.2M771.3 1057.3C865.4 960.9 990.2 833.9 1086.3 740.4M773.5 1058.3C864.3 964.4 992.2 835.7 1088.7 740.5M778.8 1057.1C870.5 963.6 1000.7 834.0 1092.4 740.7M777.0 1057.1C872.5 961.2 996.5 836.1 1092.2 742.0M784.8 1055.7C878.6 961.7 1006.5 838.0 1098.8 743.1M785.5 1056.3C880.0 963.1 1004.5 836.6 1098.6 741.8M790.8 1056.5C882.5 960.3 1012.4 836.8 1103.0 740.8M790.4 1056.8C886.0 962.1 1009.3 837.8 1104.4 741.0M796.3 1058.8C891.3 962.1 1013.9 836.4 1109.9 741.7M794.3 1056.1C890.2 961.4 1013.4 838.0 1111.0 741.5M801.7 1057.7C895.2 964.3 1022.7 837.0 1116.1 740.8M801.1 1055.8C892.6 961.2 1020.6 837.6 1114.1 743.2M807.0 1058.3C899.5 960.5 1025.9 834.4 1122.9 741.2M808.0 1057.3C903.0 961.1 1028.3 834.9 1121.3 740.4M811.1 1055.7C906.9 963.7 1031.0 834.5 1127.1 741.2M812.0 1056.6C904.7 960.5 1033.7 837.2 1126.8 741.5M818.3 1057.5C914.4 962.7 1037.9 835.2 1132.7 740.9M817.2 1058.7C910.1 963.0 1036.9 835.1 1132.3 743.1M822.6 1056.6C919.7 960.6 1045.7 836.2 1138.8 741.7M824.3 1056.6C918.5 963.7 1043.9 837.6 1137.4 743.4M830.6 1057.9C922.4 964.6 1051.2 838.6 1145.6 741.5M828.7 1056.7C921.6 960.7 1048.4 836.1 1145.6 740.9M834.2 1056.9C929.1 960.1 1055.0 838.7 1147.9 741.4M835.2 1058.6C926.5 960.1 1055.5 838.4 1150.9 742.0M839.7 1055.7C934.6 960.5 1061.0 836.9 1156.2 742.1M841.0 1058.4C933.8 962.0 1059.9 838.2 1153.7 743.2M845.7 1055.5C937.8 960.1 1065.8 836.2 1160.8 740.7M844.1 1055.7C943.0 962.7 1068.9 837.5 1162.4 742.2M851.2 1055.4C946.6 961.7 1069.5 838.0 1164.2 744.1M853.1 1056.1C944.2 961.1 1072.5 839.6 1167.3 743.2M856.2 1056.1C948.2 964.1 1071.6 842.1 1164.2 747.7M856.3 1056.2C947.3 962.3 1070.3 842.2 1165.2 747.5M861.3 1056.9C952.6 965.7 1074.3 844.2 1166.9 754.8M861.3 1055.8C952.8 964.1 1075.3 843.5 1164.2 753.3M868.6 1057.7C959.1 967.6 1074.9 846.7 1165.5 760.9M869.2 1056.5C955.9 970.0 1076.3 851.0 1164.7 758.5M875.4 1056.1C960.2 970.1 1080.5 852.9 1164.5 767.1M873.9 1058.6C962.7 968.1 1075.7 850.5 1166.8 767.2M881.4 1057.2C964.1 973.8 1078.6 855.3 1166.9 773.0M879.0 1058.8C965.5 973.1 1081.4 859.2 1167.1 770.8M885.0 1056.0C970.1 975.0 1079.9 861.0 1165.5 778.6M887.0 1057.3C969.2 974.0 1082.5 860.7 1166.6 778.1M891.2 1058.1C972.8 975.7 1083.5 866.9 1166.9 784.4M890.2 1056.9C974.6 972.0 1081.1 863.0 1164.6 783.8M897.2 1058.0C977.9 977.0 1084.5 867.7 1164.9 786.8M896.3 1056.0C978.6 976.7 1083.4 867.7 1166.6 787.9M903.1 1058.3C980.1 975.9 1084.9 872.3 1167.0 792.7M903.3 1058.5C980.7 976.2 1085.4 873.3 1165.8 792.7M908.1 1055.8C986.1 980.3 1087.3 875.8 1164.7 801.1M909.1 1055.3C986.1 977.4 1085.8 878.4 1166.1 801.3M912.7 1056.7C988.2 982.5 1092.2 880.6 1166.0 805.9M913.4 1057.7C991.6 983.0 1092.5 879.5 1166.8 806.0M920.1 1056.0C995.7 982.1 1090.7 887.1 1164.1 810.4M921.2 1057.9C990.9 980.5 1089.3 883.9 1165.0 812.1M924.2 1058.3C997.2 984.2 1092.5 886.3 1165.3 817.9M924.9 1058.6C995.1 984.6 1095.2 886.9 1167.2 818.2M929.2 1055.9C1002.3 989.2 1092.7 893.8 1164.0 823.1M931.8 1055.8C1002.8 984.3 1093.4 893.5 1164.0 824.0M935.2 1056.8C1005.1 988.5 1098.7 894.0 1164.2 826.5M935.9 1055.5C1004.2 990.8 1097.6 897.6 1165.7 826.7M942.5 1055.9C1006.9 991.8 1097.6 899.0 1166.2 835.3M942.6 1058.3C1009.1 988.4 1098.5 903.3 1164.3 832.5M946.0 1056.7C1013.5 994.1 1100.0 904.9 1164.4 838.0M948.5 1058.3C1011.3 993.9 1100.7 906.6 1167.2 838.6M952.1 1058.0C1015.0 992.6 1101.4 909.4 1164.1 843.6M955.0 1056.7C1016.4 992.1 1099.2 907.2 1165.8 844.6M959.9 1058.1C1020.5 993.4 1102.2 915.2 1166.2 850.3M959.4 1056.7C1019.9 994.6 1103.2 914.6 1165.6 850.5M966.1 1056.2C1027.4 994.8 1105.2 913.8 1165.3 855.2M964.6 1056.9C1024.9 996.6 1104.2 914.0 1163.8 855.0M969.7 1056.5C1027.4 998.6 1108.1 917.8 1164.1 862.2M970.4 1057.5C1030.7 999.3 1105.5 922.1 1166.9 862.6M976.9 1057.0C1035.1 999.4 1108.9 926.0 1167.0 865.9M974.8 1057.0C1035.3 998.6 1108.3 922.3 1163.8 865.9M983.2 1057.0C1036.6 1000.5 1110.8 929.4 1166.8 872.4M981.9 1057.3C1034.2 1000.1 1111.3 930.9 1164.8 874.8M988.6 1056.1C1041.2 1004.3 1112.7 934.3 1167.1 878.7M988.8 1056.3C1041.8 1001.7 1112.8 931.2 1166.9 878.2M994.8 1057.6C1042.7 1006.6 1114.6 933.6 1165.1 886.2M992.8 1055.6C1045.5 1005.5 1111.7 938.6 1167.3 883.1M998.9 1057.4C1047.8 1004.4 1113.8 940.2 1164.6 888.9M998.3 1057.9C1048.8 1008.0 1114.4 938.6 1164.2 889.1M1003.0 1056.5C1051.3 1007.8 1118.5 942.6 1165.1 896.9M1002.6 1058.7C1051.5 1008.4 1115.6 945.7 1167.0 895.1M1011.4 1057.8C1059.0 1008.6 1119.7 946.4 1165.1 902.7M1011.7 1058.1C1055.5 1008.0 1118.9 945.8 1165.2 902.3M1015.5 1058.3C1059.0 1012.4 1120.6 954.3 1165.8 906.3M1014.4 1056.9C1058.9 1011.4 1120.8 950.4 1165.3 906.7M1020.6 1057.1C1063.7 1011.2 1122.3 955.2 1167.1 912.7M1019.9 1056.9C1065.8 1014.4 1119.9 953.6 1165.9 912.2M1027.0 1057.4C1067.7 1016.6 1123.4 960.2 1165.7 917.5M1026.0 1057.5C1069.9 1017.1 1126.6 962.4 1165.4 916.6M1033.3 1056.9C1072.0 1016.2 1123.6 964.5 1164.7 924.8M1033.3 1058.0C1073.2 1015.1 1127.7 966.3 1164.2 923.0M1038.7 1056.1C1075.6 1019.6 1127.9 970.1 1165.7 930.7M1039.2 1057.6C1077.0 1019.8 1126.3 965.8 1165.7 931.2M1044.1 1056.0C1082.5 1019.6 1127.4 972.3 1167.2 934.4M1043.3 1058.8C1079.4 1018.4 1129.0 972.0 1165.9 934.0M1048.9 1057.6C1085.3 1020.9 1132.5 973.3 1165.3 942.2M1048.6 1055.3C1086.2 1024.9 1128.5 978.0 1167.1 941.2M1053.5 1057.7C1090.4 1025.4 1132.4 978.6 1166.6 946.3M1054.0 1055.5C1086.6 1024.1 1130.1 978.7 1165.6 946.8M1061.5 1055.7C1094.3 1024.1 1136.4 986.0 1165.6 951.1M1062.5 1056.2C1094.8 1026.7 1131.6 981.8 1166.2 950.8M1065.1 1056.5C1095.3 1029.0 1133.2 988.0 1167.1 959.1M1066.1 1055.5C1098.9 1028.1 1136.5 985.7 1167.0 958.6M1072.1 1058.4C1100.0 1028.2 1134.9 990.2 1165.7 964.2M1071.1 1055.5C1102.9 1030.1 1139.3 990.1 1163.9 964.6M1079.1 1056.6C1103.1 1030.8 1137.7 994.3 1166.8 968.4M1078.7 1058.0C1103.3 1030.5 1139.7 996.1 1167.2 969.9M1085.0 1057.2C1107.8 1029.9 1140.0 999.5 1167.2 974.9M1081.7 1056.8C1110.2 1034.6 1138.8 1000.1 1164.1 974.2M1089.1 1055.4C1111.7 1034.5 1140.3 1004.2 1164.8 980.8M1089.6 1055.9C1114.2 1034.7 1142.7 1004.9 1165.7 982.2M1094.7 1057.7C1117.3 1036.3 1144.9 1006.9 1165.0 986.5M1094.3 1057.6C1115.4 1034.7 1145.0 1009.6 1165.3 986.1M1099.4 1057.5C1120.9 1037.0 1143.3 1010.7 1165.6 992.5M1100.6 1057.5C1120.8 1036.7 1147.6 1009.5 1167.0 992.5M1107.5 1057.0C1124.2 1041.9 1145.6 1013.1 1165.3 998.3M1106.5 1056.0C1124.1 1038.1 1147.0 1014.0 1164.5 999.4M1110.9 1055.7C1127.1 1038.8 1152.0 1021.5 1167.2 1004.1M1110.3 1058.3C1127.6 1040.5 1146.7 1019.8 1165.7 1005.0M1116.5 1058.4C1131.0 1044.2 1152.2 1025.7 1164.5 1010.3M1117.7 1056.5C1129.7 1041.5 1150.1 1025.1 1164.6 1008.0M1121.3 1057.0C1136.9 1042.7 1154.1 1025.5 1165.5 1013.4M1124.5 1056.3C1134.2 1042.3 1151.8 1029.9 1164.0 1013.3M1128.3 1056.6C1137.6 1048.0 1153.5 1029.5 1166.4 1018.7M1127.6 1057.9C1140.9 1045.8 1152.9 1030.3 1167.2 1019.9M1133.8 1056.1C1143.1 1048.9 1153.7 1037.7 1166.6 1024.4M1134.8 1057.5C1145.6 1050.2 1153.6 1037.0 1164.4 1024.8M1139.0 1055.5C1149.5 1051.2 1156.7 1037.3 1165.8 1030.1M1140.1 1057.9C1145.7 1048.7 1156.1 1036.9 1163.8 1032.3M1145.9 1056.3C1152.9 1051.1 1160.4 1042.3 1167.0 1038.7M1145.6 1057.2C1153.6 1053.7 1160.8 1045.1 1165.2 1037.0M1150.7 1055.5C1157.0 1054.0 1163.5 1048.6 1164.5 1042.9M1150.7 1055.4C1157.6 1055.0 1161.5 1048.6 1165.4 1042.3M1157.5 1057.0C1160.5 1054.7 1164.5 1049.9 1165.4 1049.5M1157.6 1057.1C1159.8 1055.7 1161.9 1052.4 1165.1 1047.7M1163.0 1056.8C1163.4 1055.8 1164.4 1055.5 1165.5 1054.2M1162.9 1057.3C1163.1 1056.1 1164.7 1055.6 1165.5 1054.2" stroke="#c5e882" stroke-width="0.9" fill="none" stroke-opacity="1.0"/><rect x="631.5" y="741.5" width="534.5" height="316.0" fill="none" stroke="#333" stroke-width="1.1"/><g clip-path="url(#c0)"><path d="M37.7 640.5C38.5 639.8 40.1 638.1 40.5 637.9M38.0 640.4C38.4 639.8 40.5 638.5 40.6 637.5M37.8 646.1C41.2 642.3 43.5 638.9 45.7 638.1M38.4 645.0C41.6 642.5 44.0 640.8 47.3 636.7M39.6 653.1C41.9 645.7 47.7 644.2 50.9 638.4M36.3 652.5C42.1 646.1 49.8 639.7 52.3 639.0M38.7 656.7C45.8 649.6 54.1 641.6 56.2 636.4M39.5 655.8C44.5 653.8 50.4 646.2 58.4 637.7M38.3 664.2C46.8 655.3 54.3 647.3 62.6 639.4M38.2 664.8C46.8 653.6 57.6 646.4 64.8 638.5M36.6 667.2C48.8 660.8 60.8 646.2 67.7 636.6M39.6 667.5C46.0 660.7 61.6 648.2 68.1 637.4M37.4 674.7C49.2 661.5 65.6 650.3 74.1 637.8M39.0 672.9C50.7 664.0 66.1 648.2 73.8 638.5M37.0 679.9C52.3 666.3 68.8 650.8 79.7 637.2M36.3 680.1C52.6 668.0 70.4 647.8 81.7 638.1M39.4 682.9C54.5 670.9 69.6 652.1 87.0 636.9M39.1 683.1C52.1 671.2 69.9 649.1 86.6 638.1M46.7 685.5C60.6 670.5 78.0 651.7 93.3 639.4M46.9 685.7C59.5 669.7 79.5 653.8 91.5 636.5M51.4 682.5C65.1 671.8 84.4 651.3 97.5 636.3M49.8 685.6C62.5 671.0 82.9 651.0 98.7 637.6M56.2 683.2C70.7 669.7 90.5 651.5 101.8 638.1M55.4 683.2C71.3 671.4 88.4 653.0 103.3 638.2M62.6 683.1C78.1 672.5 96.5 653.3 107.4 638.1M62.6 683.1C75.0 670.0 95.1 648.9 108.0 638.9M66.6 682.9C79.7 668.3 103.1 649.7 115.4 638.6M69.0 684.3C79.7 671.5 101.6 649.0 115.7 638.5M75.2 683.3C87.8 670.5 103.8 653.4 119.9 637.7M73.7 682.6C87.2 671.3 107.5 649.7 120.0 636.5M78.5 685.7C93.8 668.7 109.5 652.4 126.1 636.5M77.9 682.7C90.9 671.4 109.8 649.1 126.3 639.3M83.2 682.3C96.2 668.2 115.0 651.0 132.2 639.1M84.3 682.9C99.6 668.2 118.2 649.5 132.5 636.2M89.5 685.8C105.4 672.8 123.3 649.4 136.2 637.4M91.2 684.7C106.2 667.7 123.3 651.8 137.3 637.2M97.8 685.0C110.7 669.4 126.4 654.2 141.7 637.2M96.1 682.7C112.4 668.1 129.1 653.9 141.4 635.9M102.9 684.3C117.5 668.5 132.9 651.0 147.5 638.2M102.3 685.4C117.0 668.2 132.3 648.9 148.6 636.8M107.8 684.3C119.8 668.5 140.5 651.0 153.8 637.8M107.6 685.5C119.1 670.0 137.6 649.9 153.8 638.5M112.1 683.6C126.1 669.0 143.4 650.8 158.4 639.2M114.2 684.2C127.9 669.7 147.5 651.2 161.0 638.0M117.6 683.0C131.1 670.8 152.3 651.3 166.3 636.0M119.4 683.7C132.3 672.6 151.8 650.7 165.6 635.9M125.0 685.7C140.2 672.0 155.5 652.4 170.8 637.3M123.8 683.5C140.7 670.0 159.0 649.5 172.0 637.1M129.8 682.3C144.0 669.9 165.2 650.9 177.9 639.0M129.5 682.7C144.3 671.3 164.5 652.4 178.1 638.7M134.4 684.5C149.4 670.9 166.7 650.0 183.6 637.5M136.5 685.8C149.8 667.6 166.5 650.5 180.9 638.2M142.2 682.7C156.8 672.8 175.8 649.9 187.5 638.0M141.7 684.4C154.8 668.7 174.9 653.5 188.1 638.0M147.8 684.6C161.5 671.8 180.5 648.8 195.2 636.7M147.2 685.1C163.7 669.8 179.9 652.0 192.5 637.2M154.1 683.8C166.2 670.7 184.2 649.1 200.7 638.3M152.8 682.4C169.3 668.4 183.5 650.7 198.5 638.8M158.3 682.7C172.6 668.8 191.7 649.4 206.0 636.4M158.5 685.3C170.1 671.9 191.9 650.1 203.1 636.5M165.6 682.8C178.6 667.7 194.2 649.8 210.5 638.4M165.7 685.4C178.8 668.5 198.7 653.8 209.8 636.0M170.8 685.0C183.1 671.3 199.6 652.6 217.2 638.8M169.6 685.7C184.8 670.5 202.9 648.9 217.2 637.4M174.5 683.1C190.1 671.5 208.7 649.6 222.6 639.1M174.6 684.3C190.4 669.2 206.9 649.7 222.8 637.3M180.8 684.3C192.4 671.3 212.8 653.9 226.1 639.1M180.3 682.3C196.7 671.0 213.3 652.4 228.2 637.2M187.4 683.4C201.1 667.6 217.4 651.1 232.1 638.2M185.3 684.1C202.0 671.4 216.9 652.0 232.8 636.9M194.2 684.4C204.8 669.1 223.5 649.7 240.6 636.6M191.5 684.0C203.9 671.5 225.6 650.3 239.9 638.6M196.3 685.3C210.9 671.7 233.0 653.8 243.2 636.7M199.3 685.2C210.6 668.1 228.5 649.5 244.4 636.0M203.1 682.4C216.3 670.1 238.1 648.9 249.4 638.9M204.5 684.2C219.2 667.9 238.7 651.9 248.4 639.0M209.9 683.0C224.5 668.4 239.4 651.9 254.1 638.3M208.7 683.4C221.2 671.2 243.1 651.9 257.1 637.8M216.7 683.9C227.9 669.0 247.1 651.6 262.0 636.0M213.7 684.7C229.4 667.5 246.6 653.2 259.8 636.7M221.5 683.6C236.6 667.8 252.7 651.8 265.9 638.5M221.4 682.9C236.2 672.5 254.2 652.4 268.3 638.0M225.6 683.2C240.8 668.9 261.0 651.6 272.3 638.7M228.1 684.6C242.9 670.0 259.8 651.0 273.6 637.0M232.1 682.8C247.2 668.2 262.9 652.3 277.9 637.3M231.9 685.4C247.7 671.5 263.7 651.6 276.7 637.4M237.3 682.2C253.6 668.4 269.0 651.8 282.6 636.6M238.4 684.5C249.0 671.7 269.5 650.4 283.4 637.0M242.3 684.0C255.1 668.4 276.0 650.6 288.5 637.0M241.9 685.3C256.1 667.7 274.7 651.2 288.1 637.3M249.7 683.1C263.6 669.8 279.9 653.1 295.0 639.0M250.5 683.1C262.8 667.5 280.1 650.1 296.6 637.1M253.6 685.2C270.2 669.0 287.6 649.9 302.7 636.9M256.1 684.1C268.7 670.0 288.3 651.4 301.4 638.7M260.6 683.3C276.8 670.6 290.2 649.8 305.4 636.6M260.6 684.0C271.9 671.7 295.4 652.8 308.5 639.1M267.6 683.6C281.5 671.2 300.2 650.6 312.8 638.3M267.0 684.3C280.5 672.0 299.8 652.6 314.0 637.0M270.3 682.8C283.0 670.9 302.0 649.9 317.4 638.1M270.8 684.2C284.1 667.8 306.0 652.0 318.8 639.2M278.8 684.8C289.7 669.8 308.6 653.5 322.3 637.1M278.7 682.9C290.6 672.1 312.2 652.8 325.5 639.3M282.4 684.5C296.7 667.9 313.6 653.1 330.3 637.0M282.2 684.7C295.7 667.8 316.3 650.2 329.1 638.4M287.5 683.9C303.6 669.7 320.7 652.1 335.0 639.0M287.3 683.3C303.1 668.5 323.6 653.1 335.4 639.2M293.2 683.5C306.6 671.8 327.9 653.0 339.0 638.5M294.5 683.1C305.5 670.2 328.2 649.6 339.0 637.9M299.7 684.1C314.4 668.3 330.5 650.0 345.0 636.5M301.5 685.4C313.3 667.5 331.0 652.3 344.9 637.9M303.8 685.7C321.9 668.1 336.0 651.4 351.2 637.1M304.9 683.3C319.0 667.6 337.3 653.4 352.3 639.2M311.0 682.4C324.3 669.1 344.6 652.7 356.7 636.6M309.6 682.7C326.7 668.3 344.7 649.2 358.8 639.0M317.5 683.0C330.6 671.3 351.8 653.6 364.5 638.8M317.4 684.4C328.8 669.9 347.1 649.3 362.8 638.3M323.1 683.7C335.3 670.3 355.0 649.8 367.9 639.2M324.3 684.9C338.7 672.3 357.4 649.8 370.3 636.9M326.9 682.5C339.7 669.9 359.9 652.8 373.1 638.3M326.6 684.8C341.6 671.4 359.6 653.4 376.2 636.9M335.6 683.0C348.1 669.5 368.9 652.7 380.1 636.3M335.6 685.1C348.6 668.0 365.5 653.8 381.4 637.2M341.2 682.8C354.1 670.6 370.7 653.6 385.9 637.3M339.3 685.0C353.5 670.6 373.4 650.1 386.7 639.3M343.5 685.1C360.7 668.5 379.7 652.3 392.3 638.5M346.8 684.2C357.3 670.4 378.5 650.9 392.9 636.0M349.3 685.4C363.3 671.2 383.8 650.1 395.7 639.0M350.2 683.1C365.0 668.9 381.2 652.6 397.3 636.8M355.6 685.6C371.6 672.2 388.2 652.8 402.5 636.7M355.9 685.8C367.7 670.3 389.6 650.4 402.1 635.9M361.8 683.7C375.4 671.9 389.9 655.7 405.0 639.5M361.3 683.9C374.6 671.4 392.0 653.7 404.5 641.2M366.3 685.7C381.0 671.6 395.8 657.2 405.2 645.7M366.4 684.3C381.7 675.0 394.0 659.3 404.7 645.2M374.0 683.3C381.4 675.8 396.4 660.0 404.2 652.2M374.4 685.7C382.8 671.8 395.7 660.8 405.4 653.6M380.6 684.1C386.4 673.5 395.2 666.7 407.2 656.4M377.4 683.0C385.6 673.4 398.7 666.6 405.3 659.1M383.5 685.5C392.7 678.0 400.4 667.4 406.8 664.8M385.3 683.5C388.7 679.5 400.7 666.8 404.9 662.6M390.5 682.3C397.4 678.5 401.1 672.2 405.7 667.7M391.9 682.2C396.3 678.8 402.9 672.5 404.8 667.9M395.2 683.9C399.0 681.4 401.6 676.2 404.5 673.7M396.1 683.9C397.6 679.4 401.1 678.5 405.5 675.0M401.9 683.7C403.5 682.7 404.7 680.8 405.3 680.0M401.3 683.7C403.4 683.3 404.6 682.1 405.6 680.2" stroke="#ffc4e2" stroke-width="0.8" fill="none" stroke-opacity="0.55"/></g><rect x="38" y="637.6" width="367.5" height="46.39999999999998" rx="9" fill="none" stroke="#262626" stroke-width="1" stroke-dasharray="3 1.6"/><g clip-path="url(#c1)"><path d="M36.8 702.1C37.0 701.1 38.5 699.4 39.0 698.9M36.2 701.8C37.3 701.1 38.7 700.1 39.4 698.9M36.3 706.8C38.1 703.9 42.7 701.9 45.8 698.0M35.6 707.5C37.7 705.7 41.7 701.2 45.1 699.4M35.1 714.4C40.8 706.8 45.9 701.0 51.1 700.1M35.1 714.2C38.3 710.3 49.0 700.7 48.8 698.6M36.0 720.5C45.1 715.1 49.7 705.9 55.4 698.3M37.6 718.3C43.5 715.4 50.0 704.5 54.5 698.5M36.1 724.8C46.6 714.3 51.7 705.6 60.2 700.5M35.2 725.4C46.5 715.4 52.7 706.0 63.3 699.2M36.3 729.0C44.7 719.3 57.1 707.8 69.1 699.9M37.1 731.1C44.2 720.1 60.7 708.1 69.2 697.5M37.3 737.0C49.0 725.5 64.9 708.8 73.1 698.6M38.1 735.7C47.9 726.7 60.0 708.8 74.6 699.5M36.5 742.6C47.0 727.9 66.0 712.9 77.8 700.0M36.6 742.7C49.3 728.1 68.2 710.7 79.6 698.6M35.4 746.2C51.9 731.3 69.7 715.6 83.7 700.1M38.2 746.1C53.6 731.7 72.6 710.9 86.2 697.4M37.2 754.3C50.8 735.2 76.5 717.1 91.4 699.3M35.5 752.2C51.1 738.6 72.0 715.8 90.6 698.3M36.2 758.3C55.8 738.0 79.8 718.4 97.2 699.9M34.7 757.4C54.5 742.7 75.9 715.5 96.7 700.3M37.7 765.1C55.7 745.8 81.5 717.5 100.6 699.2M37.4 764.8C54.7 744.5 80.4 717.7 101.1 699.8M36.9 767.5C57.3 748.0 88.4 721.9 106.5 698.5M36.5 767.7C59.6 749.3 88.4 719.5 105.7 700.4M41.7 767.5C61.6 747.7 89.6 718.5 112.5 700.0M43.1 769.5C62.4 745.6 90.2 717.5 114.5 698.4M46.7 767.6C71.7 747.9 95.3 718.1 118.7 698.8M49.2 770.7C68.7 747.7 97.2 718.8 119.4 698.0M52.9 767.3C77.8 747.4 104.2 718.4 125.5 700.7M52.8 767.2C75.3 746.6 103.1 720.2 123.6 700.1M58.7 768.8C83.5 749.2 106.8 722.3 131.4 698.8M60.5 768.8C79.2 747.8 107.0 719.5 128.7 699.6M67.2 769.4C87.3 748.6 113.3 718.4 135.5 699.4M65.9 770.5C85.4 748.5 112.0 720.0 136.8 699.0M72.2 770.7C92.0 748.6 122.7 717.9 139.7 697.9M69.8 768.9C91.5 749.1 119.7 718.3 142.2 697.3M75.3 769.9C98.8 749.4 125.3 719.3 146.8 699.1M78.3 767.5C98.0 746.7 128.2 718.9 147.8 698.9M81.8 767.4C101.0 746.1 130.3 717.5 153.9 700.2M82.5 770.3C106.1 746.9 130.5 718.7 153.3 699.0M88.5 768.9C111.6 750.0 137.8 722.0 156.8 699.0M88.1 769.0C109.6 748.0 136.0 720.0 158.8 697.9M92.6 769.5C112.4 748.2 140.6 721.7 162.4 698.8M92.0 770.1C113.9 746.1 143.7 718.6 163.1 700.6M100.6 768.9C118.9 746.7 146.2 718.6 168.6 699.3M98.4 767.8C120.9 748.3 149.4 720.6 169.1 698.8M105.0 770.3C123.5 750.2 156.1 719.5 173.8 698.2M106.3 769.2C125.2 746.8 153.6 722.5 176.6 700.4M110.6 768.5C134.0 747.6 161.3 722.1 179.0 698.6M112.3 769.8C134.1 749.6 161.1 717.6 180.7 698.3M116.9 769.7C137.2 746.7 163.3 718.1 185.1 698.4M116.3 767.2C136.2 746.7 164.4 720.5 187.5 698.7M122.8 768.7C144.7 749.2 172.5 717.4 192.8 699.3M121.5 767.6C145.4 747.2 169.2 721.1 193.3 697.8M126.6 768.5C148.8 748.9 178.3 722.5 197.5 699.5M128.2 768.7C150.5 748.3 177.8 721.7 197.7 698.5M134.1 770.4C156.5 747.9 184.1 718.8 203.2 699.7M132.2 770.3C154.9 746.7 180.3 722.2 203.6 700.7M138.1 767.8C160.4 745.6 189.6 720.9 209.1 699.8M138.4 770.5C157.8 747.0 189.4 721.0 209.0 700.0M145.4 769.7C163.2 746.6 192.6 720.0 213.0 700.3M143.2 768.7C164.9 745.9 195.3 717.5 213.4 698.4M149.3 770.4C170.3 748.1 199.5 719.5 220.0 700.6M152.1 768.6C170.5 749.9 201.6 717.4 221.4 699.0M156.4 769.9C178.2 746.1 204.9 718.4 226.0 698.7M157.3 770.0C177.2 748.8 203.6 721.5 225.6 700.0M162.2 770.8C184.2 746.7 212.1 721.9 230.8 698.6M160.5 769.8C181.9 749.5 211.4 719.4 230.9 698.2M168.0 770.1C188.4 748.7 218.3 718.5 236.2 700.3M167.2 769.8C188.5 747.7 216.3 721.8 235.6 698.6M171.6 769.8C193.8 746.0 221.8 718.2 242.2 697.5M172.8 767.7C193.7 748.6 222.9 718.0 244.8 698.0M179.9 768.5C200.3 747.2 228.9 719.0 247.1 698.7M179.8 770.6C199.2 748.2 227.0 718.3 249.8 697.4M184.6 767.6C208.0 747.4 235.8 720.9 253.1 698.7M184.8 770.5C205.1 749.6 235.3 717.3 254.6 699.9M191.5 767.3C212.3 747.6 237.0 721.9 260.5 697.5M189.0 770.4C210.7 749.4 238.2 720.1 259.5 699.2M194.6 768.4C215.4 749.0 242.7 718.1 264.2 698.1M197.3 769.5C218.0 748.6 247.1 720.2 264.1 700.3M200.0 767.2C222.5 749.8 247.9 717.7 269.8 698.9M199.8 768.5C219.8 748.5 248.5 718.5 272.8 700.0M206.3 768.1C227.1 748.5 256.3 721.2 276.2 698.0M206.1 767.3C226.4 747.5 258.3 720.5 277.2 698.3M213.4 767.4C235.5 749.4 259.1 722.6 282.7 699.7M210.8 770.0C236.0 749.3 259.3 720.8 282.5 700.5M216.9 768.7C236.8 748.2 265.0 718.6 286.9 698.3M219.2 768.3C240.0 749.7 269.6 718.6 288.5 700.3M222.8 770.8C247.2 745.8 271.4 722.0 295.4 698.4M222.5 770.3C242.9 748.0 273.3 720.3 292.9 700.0M230.9 767.3C250.7 746.6 280.1 719.6 300.3 700.3M228.7 770.0C250.5 745.4 276.0 720.3 300.5 700.2M233.5 769.4C253.6 749.0 282.7 722.7 303.9 700.0M235.1 769.1C258.7 746.9 281.7 718.8 306.5 698.2M240.4 769.3C263.4 749.3 292.5 717.6 309.3 700.5M241.5 770.3C260.2 750.3 289.7 721.8 309.7 698.7M245.6 769.4C266.3 745.8 296.2 719.5 317.4 698.4M245.4 768.4C268.0 746.1 294.0 719.2 315.9 697.6M253.9 769.8C275.5 747.1 302.8 720.7 321.1 700.2M252.4 770.5C275.5 747.8 299.0 717.3 322.8 699.5M258.6 768.9C277.5 746.4 307.2 717.4 329.2 700.7M256.4 767.5C277.2 749.0 308.2 721.8 327.1 698.8M263.7 769.9C283.5 748.4 314.2 718.6 334.6 699.8M263.0 767.2C284.2 746.3 310.4 722.1 333.8 697.6M268.5 770.6C290.1 748.8 319.8 718.3 340.0 699.3M269.3 768.2C291.7 750.3 317.8 718.2 338.0 698.0M273.6 768.3C295.9 748.0 324.5 718.3 344.3 700.4M274.3 768.8C296.2 748.6 322.5 717.7 343.2 698.3M280.7 767.8C302.7 750.4 328.5 721.5 348.7 700.7M281.7 769.5C300.8 747.7 329.8 718.3 348.8 698.2M285.1 767.3C305.7 745.4 337.0 718.5 355.8 697.6M286.1 769.3C308.7 746.6 335.8 721.2 354.5 699.2M292.0 768.5C312.4 749.3 342.1 721.4 361.8 699.6M291.5 767.7C313.1 745.6 339.7 718.1 360.6 698.3M297.6 767.9C317.7 749.3 348.2 719.4 368.6 697.4M299.0 770.4C316.8 749.0 344.0 720.8 367.7 698.4M302.1 767.9C321.7 746.1 353.6 719.4 373.5 698.6M304.1 769.4C324.6 746.6 350.1 722.7 371.3 698.4M308.1 769.6C328.3 745.5 358.5 721.0 378.5 700.8M309.9 767.6C328.5 746.0 355.8 717.5 377.6 698.9M314.1 767.7C336.5 748.8 362.6 721.6 382.7 697.5M312.8 768.7C333.5 747.9 362.6 717.7 386.0 697.4M321.3 770.0C341.4 748.0 369.4 719.0 390.4 698.7M321.2 769.1C342.6 748.0 368.1 720.2 389.1 699.3M326.4 767.9C346.3 748.1 376.1 718.2 397.1 698.7M324.6 769.0C344.7 746.4 374.0 722.1 394.0 698.8M331.8 768.2C349.7 747.7 381.5 721.7 401.9 699.0M333.0 767.3C352.1 749.7 380.0 720.2 401.4 698.6M338.0 770.3C355.6 747.6 383.6 722.2 406.3 700.1M337.6 767.7C359.6 747.6 384.6 720.9 406.3 701.4M342.4 770.7C364.4 747.9 389.4 723.9 407.3 707.1M341.8 769.4C364.2 748.3 384.8 724.1 405.6 704.6M349.5 770.1C363.7 753.3 390.1 727.1 405.8 711.0M348.9 770.4C367.0 752.4 388.1 726.0 405.5 710.4M353.4 769.7C371.1 752.6 388.4 733.5 404.9 716.9M354.7 769.4C369.7 753.1 392.3 731.7 407.5 716.5M358.7 768.5C371.9 756.8 394.7 735.7 407.2 723.5M360.7 769.7C370.9 757.1 391.2 738.3 406.4 721.7M366.6 770.3C379.2 759.2 396.1 742.6 406.8 729.1M364.7 770.5C379.5 757.0 396.2 739.6 404.5 727.2M369.4 767.7C381.1 759.3 393.0 746.8 407.4 735.1M370.2 767.9C381.4 759.7 393.8 746.1 406.0 733.9M376.0 768.6C386.7 761.8 396.8 747.6 407.4 740.5M376.7 770.3C385.3 762.6 398.3 750.7 404.8 740.3M382.0 768.9C388.4 760.3 399.6 752.8 405.1 744.2M383.1 769.9C390.0 762.0 398.8 751.5 407.7 745.4M387.3 768.4C393.6 764.5 403.2 756.8 406.0 750.7M389.7 768.3C393.1 763.4 399.2 759.0 406.4 751.2M392.2 770.0C396.4 767.4 401.5 760.7 405.9 756.1M393.3 769.5C395.4 763.0 403.0 758.0 406.2 756.7M399.3 768.6C400.1 766.1 403.5 764.7 406.4 761.9M399.6 769.6C400.1 767.4 403.6 764.5 406.8 762.3M404.8 769.0C405.4 768.6 405.7 768.3 405.9 768.0M405.0 769.0C405.2 768.7 405.7 768.3 405.9 767.9" stroke="#ffff60" stroke-width="0.8" fill="none" stroke-opacity="0.6"/></g><rect x="36.5" y="699" width="369.5" height="70" rx="9" fill="none" stroke="#262626" stroke-width="1" stroke-dasharray="3 1.6"/><g clip-path="url(#c2)"><path d="M33.8 810.7C34.8 810.4 35.0 808.5 36.1 807.9M33.3 811.0C34.7 810.4 35.8 808.7 36.5 807.8M34.2 816.0C35.7 813.3 40.5 811.4 42.9 807.2M33.6 816.6C34.6 814.7 40.9 810.4 41.5 808.2M33.4 822.4C36.2 817.8 44.4 813.6 47.2 809.5M32.8 820.8C39.5 815.3 45.5 813.9 48.3 806.7M33.5 829.2C38.1 819.6 45.3 811.8 54.3 808.6M34.1 828.5C38.7 823.8 48.9 816.5 54.9 807.6M31.7 835.1C39.6 826.0 52.7 816.8 58.6 809.1M34.2 832.0C42.9 826.2 52.0 814.1 60.4 806.4M34.5 840.0C42.4 831.7 53.8 816.7 63.7 809.5M32.5 837.4C42.9 829.7 53.1 819.6 63.3 806.8M34.0 844.8C46.7 833.3 59.3 821.3 69.5 807.7M33.1 846.0C42.5 832.5 57.0 821.1 68.7 808.8M34.9 851.5C46.3 839.9 64.4 818.0 75.9 806.6M35.3 852.0C47.4 838.4 60.5 820.4 76.2 806.3M31.8 854.5C47.0 839.8 65.9 821.0 82.2 809.0M33.7 855.3C46.5 842.3 66.9 820.2 83.1 806.3M33.1 861.0C50.4 846.6 70.7 821.7 88.3 807.1M33.6 860.3C47.9 848.1 69.3 821.6 86.3 809.5M31.8 868.6C50.5 848.7 75.8 824.8 94.3 807.2M33.4 867.9C52.1 850.4 72.4 825.5 92.1 806.7M34.7 873.4C51.4 853.0 77.1 829.7 99.2 809.7M33.8 874.4C54.2 852.3 79.1 828.2 99.1 807.4M34.5 877.8C55.4 855.3 83.1 827.0 105.1 808.2M34.0 879.8C55.4 857.8 85.6 831.1 103.8 807.8M34.2 883.8C54.9 862.6 87.8 832.9 108.3 808.6M31.9 884.3C55.1 863.3 86.7 831.2 109.3 807.4M32.1 890.2C57.2 864.2 91.2 830.3 116.0 806.6M35.2 889.6C59.5 867.6 90.6 831.9 117.1 806.3M33.9 895.0C60.6 869.4 94.7 835.9 120.3 809.5M34.4 894.9C57.4 868.9 92.8 835.2 120.5 807.7M32.9 900.7C60.0 875.4 98.6 836.3 125.8 807.1M32.8 903.0C62.5 870.6 101.5 837.3 127.2 806.8M32.5 906.7C64.7 877.7 101.2 838.5 134.0 809.0M33.8 905.7C65.5 876.4 103.5 835.6 130.9 808.1M34.9 914.0C66.2 880.9 108.8 836.9 137.4 808.8M32.7 911.3C63.4 882.1 106.8 839.8 139.3 808.9M33.2 918.5C65.9 883.4 111.4 842.8 144.0 807.3M32.5 918.6C64.2 882.7 112.0 839.1 143.4 806.9M38.2 918.5C72.0 883.9 117.3 841.9 148.4 808.3M40.6 917.9C72.5 882.8 115.3 840.8 150.5 808.4M43.0 917.1C78.1 883.9 122.1 840.6 156.3 806.6M43.8 918.3C77.6 883.3 123.3 839.3 154.3 809.6M51.2 919.5C84.8 886.9 129.3 841.7 162.3 808.1M51.7 919.4C85.3 887.7 127.0 843.4 160.4 807.5M57.0 919.2C88.0 886.4 133.1 839.7 165.9 807.2M54.7 919.6C89.3 882.9 132.8 839.5 165.3 806.8M62.9 918.7C92.1 887.2 141.3 838.5 172.1 807.9M61.8 919.5C96.9 887.4 137.0 843.8 173.3 809.6M69.0 919.0C100.0 883.2 144.4 843.8 179.1 807.1M68.0 918.4C100.0 884.2 144.5 841.5 177.1 807.0M72.6 918.8C106.0 887.2 152.4 841.6 183.1 808.0M73.8 917.8C104.1 886.8 152.5 841.9 182.2 807.3M77.6 917.2C109.8 888.0 157.3 843.6 190.0 808.3M80.3 919.5C109.9 884.5 156.1 841.9 190.6 809.6M83.0 917.7C117.2 887.7 163.6 843.3 195.7 809.7M83.1 918.1C119.2 883.3 162.5 838.6 195.3 809.1M89.2 916.9C123.9 884.9 168.9 840.2 200.4 806.7M91.6 917.1C123.0 887.2 164.7 839.4 198.9 808.0M94.6 918.3C127.3 884.7 174.3 841.5 207.2 808.6M94.1 918.0C127.2 884.3 172.0 843.1 204.3 807.8M99.7 917.0C134.0 887.7 179.8 839.9 210.4 807.7M99.9 918.7C135.8 884.6 181.0 843.6 212.9 807.0M105.7 919.6C140.1 887.5 184.1 841.5 217.7 807.6M106.8 916.8C142.2 882.7 184.6 839.8 218.3 806.6M113.2 919.0C148.3 883.3 188.4 841.1 223.9 809.2M114.0 918.1C144.7 883.1 191.5 840.9 222.0 808.1M119.4 917.1C153.2 885.1 196.1 838.7 228.1 806.6M117.9 918.1C153.9 884.4 195.6 841.0 229.4 807.1M123.3 916.9C159.6 886.0 199.2 839.5 232.7 809.5M123.2 916.8C156.0 887.2 201.5 843.8 233.7 807.2M128.8 917.0C164.3 884.7 208.5 839.0 240.9 808.8M130.3 919.2C162.4 885.0 206.7 841.7 240.2 808.4M136.4 917.9C166.5 886.5 209.8 843.2 245.8 807.6M133.5 917.3C167.2 885.3 214.8 841.9 246.5 807.8M140.3 920.1C175.2 887.0 219.7 840.6 250.4 806.5M141.4 917.5C175.8 887.8 218.4 842.3 250.5 809.6M145.9 918.1C182.0 883.5 223.3 843.4 258.5 808.9M148.0 919.6C180.8 883.2 223.6 838.5 258.3 807.2M151.9 917.4C186.2 887.4 231.8 840.1 262.3 808.6M151.5 918.2C186.8 886.2 230.3 840.0 261.7 809.2M157.0 919.4C189.0 883.8 236.5 843.4 266.8 809.8M156.5 920.1C191.2 883.9 235.9 841.8 268.3 806.6M164.6 920.0C197.8 887.3 242.6 841.1 275.2 808.6M165.0 920.2C197.2 885.6 240.3 841.1 272.8 807.0M168.0 918.2C203.3 883.2 244.9 841.1 279.9 808.9M170.1 917.7C201.2 887.2 244.8 843.0 280.4 807.0M174.9 916.8C205.9 884.7 252.0 841.0 285.1 808.1M176.2 918.1C209.2 883.5 252.5 842.5 286.7 807.3M181.6 916.9C216.1 884.3 259.6 839.3 291.8 806.8M182.1 918.6C215.1 886.6 257.3 839.7 289.9 809.5M186.5 919.8C216.8 885.1 262.3 841.3 297.4 808.8M186.7 918.9C218.0 884.9 262.2 839.5 294.8 807.3M190.7 918.5C227.3 886.2 271.2 843.2 303.6 807.0M192.6 920.0C224.1 883.6 267.8 841.9 301.1 808.5M196.0 917.1C228.0 883.7 272.0 841.3 309.1 809.1M199.1 917.2C231.7 885.8 276.0 839.0 308.1 807.8M204.7 919.5C237.8 886.8 279.7 843.5 312.1 806.2M203.5 918.5C235.5 885.0 279.5 843.0 311.9 807.9M208.2 917.0C241.9 884.5 288.1 843.8 318.3 809.2M208.4 917.2C243.8 886.5 285.1 842.0 318.5 806.6M215.6 920.3C248.3 885.0 291.8 840.9 323.7 807.9M214.0 918.8C247.0 886.9 289.8 841.0 324.5 807.3M219.0 920.0C255.6 886.5 295.9 842.4 328.7 807.5M220.0 917.0C252.0 884.9 299.9 843.3 329.1 806.4M225.8 919.1C258.1 886.2 301.5 839.7 336.6 809.1M224.8 918.2C256.3 884.4 303.6 842.7 335.4 808.4M232.3 918.3C266.7 886.2 310.2 839.0 342.2 806.3M231.0 917.8C262.6 887.9 307.1 839.2 343.0 808.9M237.2 918.3C272.3 886.5 313.3 839.3 349.1 806.4M237.7 916.8C269.3 888.0 316.2 841.4 346.7 806.5M243.1 919.0C278.3 887.8 319.1 843.6 354.1 809.2M241.7 917.1C277.8 887.9 321.6 839.8 353.7 806.4M248.4 916.9C279.8 883.5 324.8 840.3 358.6 809.2M247.7 917.9C281.4 886.0 324.7 843.3 357.2 808.5M254.9 918.7C286.7 884.9 331.6 838.8 364.0 809.3M253.9 917.0C285.0 883.8 332.2 841.4 365.9 809.0M259.2 918.2C290.3 883.0 335.5 838.6 369.1 807.7M258.6 917.4C295.4 886.5 338.7 841.5 369.6 808.3M266.2 919.0C296.4 886.4 341.9 840.8 374.0 807.5M264.0 920.2C297.7 884.4 340.9 842.2 374.9 806.7M270.6 916.7C306.0 888.0 348.5 842.6 383.0 806.6M269.1 917.4C302.0 884.1 346.0 842.7 382.5 808.7M277.1 918.0C308.4 885.5 351.2 842.3 387.3 808.0M278.2 917.3C310.7 886.8 353.0 842.5 386.8 808.3M281.7 919.5C317.5 883.6 359.6 840.3 392.7 808.3M280.6 919.5C313.4 886.9 360.7 840.2 391.6 806.8M287.8 918.0C319.9 887.8 364.2 842.2 398.3 806.3M288.3 918.4C321.4 886.9 364.1 839.7 398.8 808.7M293.4 919.5C326.2 887.8 368.4 842.3 403.0 807.2M292.7 918.7C324.6 885.4 372.8 839.3 403.9 808.4M298.5 917.5C330.7 887.8 370.4 846.0 402.9 815.7M300.1 917.9C330.4 889.9 372.5 845.0 401.3 816.4M303.7 920.1C331.7 888.0 373.1 847.6 403.9 820.6M304.7 918.4C336.7 891.1 375.3 848.7 401.9 820.4M309.5 918.4C335.9 892.6 372.6 853.8 404.6 825.0M312.2 918.8C339.6 891.7 373.0 853.5 401.2 825.3M316.1 917.3C341.7 894.9 376.0 859.8 401.7 831.0M314.4 918.4C341.1 893.5 377.5 856.6 401.7 830.1M322.6 919.2C344.0 895.7 381.1 863.7 404.3 838.0M322.4 917.2C347.4 896.4 377.1 859.1 404.3 837.3M329.0 919.9C352.1 896.5 380.5 868.3 401.5 842.8M325.8 918.0C350.6 894.6 382.3 867.9 401.8 844.6M333.1 920.1C356.7 896.1 383.1 871.4 402.0 849.3M334.4 917.7C354.1 899.5 380.9 871.6 402.6 847.2M337.9 918.4C360.4 898.5 383.1 874.9 403.6 855.4M339.8 919.5C359.5 899.7 382.8 874.8 402.2 855.6M342.9 919.4C362.5 900.2 384.4 877.5 402.7 860.9M343.1 917.6C364.3 901.1 384.5 875.8 403.5 858.8M349.3 918.1C368.5 905.0 389.4 883.9 401.7 864.9M350.8 920.2C364.2 903.5 389.6 883.8 403.5 865.3M357.5 918.3C371.1 906.2 390.8 885.7 403.7 873.0M357.1 918.0C368.4 906.1 390.4 886.2 404.2 871.0M361.3 917.6C374.8 907.8 388.0 891.0 404.2 877.5M362.7 917.2C372.6 906.2 392.8 887.7 401.4 878.2M367.0 916.9C377.5 909.3 390.3 895.0 404.3 883.9M368.2 919.3C378.7 909.5 392.2 894.4 401.3 881.8M372.6 918.8C383.8 909.7 393.0 896.2 402.2 887.1M372.1 918.6C381.0 908.8 393.2 894.8 401.8 888.0M379.8 917.8C385.1 910.3 396.6 903.7 403.9 895.5M378.5 919.0C385.5 911.9 395.0 902.5 401.6 893.2M385.3 917.6C388.8 913.2 399.1 903.6 403.1 898.1M385.1 919.1C389.8 910.9 398.8 906.2 404.2 898.0M388.8 920.2C392.2 915.9 398.2 911.0 404.3 904.8M388.9 919.7C392.7 915.1 396.8 908.5 402.5 905.5M395.1 918.7C399.0 915.2 401.4 912.8 403.6 910.8M394.8 918.2C397.6 917.1 401.6 912.9 402.8 910.8M401.1 918.5C401.9 918.0 402.4 917.4 402.8 916.7M401.2 918.5C401.4 917.9 402.5 916.9 402.8 916.5" stroke="#c5e882" stroke-width="0.8" fill="none" stroke-opacity="0.95"/></g><rect x="33.5" y="808" width="369.5" height="110.5" rx="9" fill="none" stroke="#262626" stroke-width="1" stroke-dasharray="3 1.6"/><path d="M631.5,186 L493.19,228.53" stroke="#111" stroke-width="1.1" fill="none"/><path d="M487.1,230.4 L493.93,223.70 L493.19,228.53 L496.52,232.11 Z" fill="#111"/><path d="M630,548.3 L484.00,669.01" stroke="#111" stroke-width="1.1" fill="none"/><path d="M484.00,669.01 L410.91,729.44" stroke="#333" stroke-width="1" fill="none"/><path d="M406,733.5 L409.75,724.69 L410.91,729.44 L415.35,731.47 Z" fill="#333"/><path d="M631,887.9 L484.00,871.78" stroke="#111" stroke-width="1.1" fill="none"/><path d="M484.00,871.78 L404.00,863.00" stroke="#333" stroke-width="1" stroke-dasharray="3 1.5" fill="none"/><path d="M412.93,859.55 L404,863 L411.97,868.30" fill="none" stroke="#333" stroke-width="1"/><path d="M414.42,859.72 L405.49,863.16 L413.46,868.46" fill="none" stroke="#555" stroke-width="0.8"/><circle cx="662" cy="162" r="2"/><circle cx="662" cy="267" r="2"/><circle cx="702" cy="183" r="2.3" fill="none" stroke="#444" stroke-width="1.3"/><circle cx="702" cy="224.8" r="2.3" fill="none" stroke="#444" stroke-width="1.3"/><circle cx="702" cy="288" r="2.3" fill="none" stroke="#444" stroke-width="1.3"/><circle cx="635" cy="838.8" r="1.9"/><circle cx="635" cy="880.9" r="1.9"/></svg>
<div class="t" style="left:22.50px;top:29.08px;font:bold 24.0px/24.0px 'Liberation Sans', sans-serif;color:#000;-webkit-text-stroke:0.15px #000">EventSource</div>
<div class="t" style="left:22.50px;top:74.30px;font:normal 18.0px/18.0px 'Liberation Mono', monospace;color:#28363d;-webkit-text-stroke:0.3px #28363d">apiVersion: lib.projectsveltos.io/v1beta1</div>
<div class="t" style="left:22.50px;top:95.30px;font:normal 18.0px/18.0px 'Liberation Mono', monospace;color:#28363d;-webkit-text-stroke:0.3px #28363d">kind: EventSource</div>
<div class="t" style="left:22.50px;top:116.30px;font:normal 18.0px/18.0px 'Liberation Mono', monospace;color:#28363d;-webkit-text-stroke:0.3px #28363d">metadata:</div>
<div class="t" style="left:22.50px;top:137.30px;font:normal 18.0px/18.0px 'Liberation Mono', monospace;color:#28363d;-webkit-text-stroke:0.3px #28363d">  name: sveltos-service</div>
<div class="t" style="left:22.50px;top:158.30px;font:normal 18.0px/18.0px 'Liberation Mono', monospace;color:#28363d;-webkit-text-stroke:0.3px #28363d">spec:</div>
<div class="t" style="left:22.50px;top:179.30px;font:normal 18.0px/18.0px 'Liberation Mono', monospace;color:#28363d;-webkit-text-stroke:0.3px #28363d">  collectResources: true</div>
<div class="t" style="left:22.50px;top:200.30px;font:normal 18.0px/18.0px 'Liberation Mono', monospace;color:#28363d;-webkit-text-stroke:0.3px #28363d">  resourceSelectors:</div>
<div class="t" style="left:22.50px;top:221.30px;font:normal 18.0px/18.0px 'Liberation Mono', monospace;color:#28363d;-webkit-text-stroke:0.3px #28363d">  - group: &quot;&quot;</div>
<div class="t" style="left:22.50px;top:242.30px;font:normal 18.0px/18.0px 'Liberation Mono', monospace;color:#28363d;-webkit-text-stroke:0.3px #28363d">    version: &quot;v1&quot;</div>
<div class="t" style="left:22.50px;top:263.30px;font:normal 18.0px/18.0px 'Liberation Mono', monospace;color:#28363d;-webkit-text-stroke:0.3px #28363d">    kind: &quot;Service&quot;</div>
<div class="t" style="left:22.50px;top:284.30px;font:normal 18.0px/18.0px 'Liberation Mono', monospace;color:#28363d;-webkit-text-stroke:0.3px #28363d">    labelFilters:</div>
<div class="t" style="left:22.50px;top:305.30px;font:normal 18.0px/18.0px 'Liberation Mono', monospace;color:#28363d;-webkit-text-stroke:0.3px #28363d">    - key: sveltos</div>
<div class="t" style="left:22.50px;top:326.30px;font:normal 18.0px/18.0px 'Liberation Mono', monospace;color:#28363d;-webkit-text-stroke:0.3px #28363d">      operation: Equal</div>
<div class="t" style="left:22.50px;top:347.30px;font:normal 18.0px/18.0px 'Liberation Mono', monospace;color:#28363d;-webkit-text-stroke:0.3px #28363d">      value: fv</div>
<div class="t" style="left:25.40px;top:489.78px;font:bold 24.0px/24.0px 'Liberation Sans', sans-serif;color:#000;-webkit-text-stroke:0.15px #000">EventTrigger</div>
<div class="t" style="left:25.30px;top:534.30px;font:normal 18.0px/18.0px 'Liberation Mono', monospace;color:#28363d;-webkit-text-stroke:0.3px #28363d">apiVersion: lib.projectsveltos.io/v1beta1</div>
<div class="t" style="left:25.30px;top:555.30px;font:normal 18.0px/18.0px 'Liberation Mono', monospace;color:#28363d;-webkit-text-stroke:0.3px #28363d">kind: EventTrigger</div>
<div class="t" style="left:25.30px;top:576.30px;font:normal 18.0px/18.0px 'Liberation Mono', monospace;color:#28363d;-webkit-text-stroke:0.3px #28363d">metadata:</div>
<div class="t" style="left:25.30px;top:597.30px;font:normal 18.0px/18.0px 'Liberation Mono', monospace;color:#28363d;-webkit-text-stroke:0.3px #28363d">  name: service-network-policy</div>
<div class="t" style="left:25.30px;top:618.30px;font:normal 18.0px/18.0px 'Liberation Mono', monospace;color:#28363d;-webkit-text-stroke:0.3px #28363d">spec:</div>
<div class="t" style="left:46.70px;top:652.00px;font:normal 18.0px/18.0px 'Liberation Mono', monospace;color:#28363d;-webkit-text-stroke:0.3px #28363d">eventSourceName: sveltos-service</div>
<div class="t" style="left:46.70px;top:706.00px;font:normal 18.0px/18.0px 'Liberation Mono', monospace;color:#28363d;-webkit-text-stroke:0.3px #28363d">sourceClusterSelector:</div>
<div class="t" style="left:46.70px;top:727.00px;font:normal 18.0px/18.0px 'Liberation Mono', monospace;color:#28363d;-webkit-text-stroke:0.3px #28363d">  matchLabels:</div>
<div class="t" style="left:46.70px;top:748.00px;font:normal 18.0px/18.0px 'Liberation Mono', monospace;color:#28363d;-webkit-text-stroke:0.3px #28363d">    env: prod</div>
<div class="t" style="left:46.70px;top:814.60px;font:normal 18.0px/18.0px 'Liberation Mono', monospace;color:#28363d;-webkit-text-stroke:0.3px #28363d">policyRefs:</div>
<div class="t" style="left:46.70px;top:835.60px;font:normal 18.0px/18.0px 'Liberation Mono', monospace;color:#28363d;-webkit-text-stroke:0.3px #28363d">- name: network-policy</div>
<div class="t" style="left:46.70px;top:856.60px;font:normal 18.0px/18.0px 'Liberation Mono', monospace;color:#28363d;-webkit-text-stroke:0.3px #28363d">  namespace: default</div>
<div class="t" style="left:46.70px;top:877.60px;font:normal 18.0px/18.0px 'Liberation Mono', monospace;color:#28363d;-webkit-text-stroke:0.3px #28363d">  kind: ConfigMap</div>
<div class="t" style="left:634.50px;top:31.08px;font:bold 24.0px/24.0px 'Liberation Sans', sans-serif;color:#000;-webkit-text-stroke:0.15px #000">Define Custom Events</div>
<div class="t" style="left:634.00px;top:75.06px;font:normal 18.0px/18.0px 'Liberation Sans', sans-serif;color:#000;-webkit-text-stroke:0.15px #000"><b>EventSource</b> is a Kubernetes Custom Resource Definition (CRD)</div>
<div class="t" style="left:634.00px;top:95.96px;font:normal 18.0px/18.0px 'Liberation Sans', sans-serif;color:#000;-webkit-text-stroke:0.15px #000">that enables you to define custom events within your cluster.</div>
<div class="t" style="left:634.00px;top:116.86px;font:normal 18.0px/18.0px 'Liberation Sans', sans-serif;color:#000;-webkit-text-stroke:0.15px #000">These events can be triggered by various conditions, such as:</div>
<div class="t" style="left:674.00px;top:150.36px;font:normal 18.0px/18.0px 'Liberation Sans', sans-serif;color:#000;-webkit-text-stroke:0.15px #000"><b>Resource-specific events:</b></div>
<div class="t" style="left:713.50px;top:171.26px;font:normal 18.0px/18.0px 'Liberation Sans', sans-serif;color:#000;-webkit-text-stroke:0.15px #000">Creation or deletion of specific resources like</div>
<div class="t" style="left:713.50px;top:192.16px;font:normal 18.0px/18.0px 'Liberation Sans', sans-serif;color:#000;-webkit-text-stroke:0.15px #000">Namespaces, LoadBalancer Services, or Deployments.</div>
<div class="t" style="left:713.50px;top:213.06px;font:normal 18.0px/18.0px 'Liberation Sans', sans-serif;color:#000;-webkit-text-stroke:0.15px #000">Changes in resource status, such as a Deployment not</div>
<div class="t" style="left:713.50px;top:233.96px;font:normal 18.0px/18.0px 'Liberation Sans', sans-serif;color:#000;-webkit-text-stroke:0.15px #000">having all its replicas running.</div>
<div class="t" style="left:674.00px;top:254.86px;font:normal 18.0px/18.0px 'Liberation Sans', sans-serif;color:#000;-webkit-text-stroke:0.15px #000"><b>Composite events:</b></div>
<div class="t" style="left:713.50px;top:275.76px;font:normal 18.0px/18.0px 'Liberation Sans', sans-serif;color:#000;-webkit-text-stroke:0.15px #000">Events that combine conditions across multiple resource</div>
<div class="t" style="left:713.50px;top:296.66px;font:normal 18.0px/18.0px 'Liberation Sans', sans-serif;color:#000;-webkit-text-stroke:0.15px #000">types, allowing for more complex scenarios.</div>
<div class="t" style="left:630.50px;top:399.08px;font:bold 24.0px/24.0px 'Liberation Sans', sans-serif;color:#000;-webkit-text-stroke:0.15px #000">Specify Watch Targets</div>
<div class="t" style="left:630.50px;top:442.76px;font:normal 18.0px/18.0px 'Liberation Sans', sans-serif;color:#000;-webkit-text-stroke:0.15px #000">To precisely control where these events are monitored, use</div>
<div class="t" style="left:630.50px;top:463.66px;font:normal 18.0px/18.0px 'Liberation Sans', sans-serif;color:#000;-webkit-text-stroke:0.15px #000">a <b style="font-family:'Liberation Mono',monospace">clusterSelector</b> field.</div>
<div class="t" style="left:630.50px;top:497.36px;font:normal 18.0px/18.0px 'Liberation Sans', sans-serif;color:#000;-webkit-text-stroke:0.15px #000">This selector allows you to specify which managed clusters should</div>
<div class="t" style="left:630.50px;top:518.21px;font:normal 18.0px/18.0px 'Liberation Sans', sans-serif;color:#000;-webkit-text-stroke:0.15px #000">be watched for the defined event. By using label selectors, you can</div>
<div class="t" style="left:630.50px;top:539.06px;font:normal 18.0px/18.0px 'Liberation Sans', sans-serif;color:#000;-webkit-text-stroke:0.15px #000">target specific clusters based on their attributes, such as</div>
<div class="t" style="left:630.50px;top:559.91px;font:normal 18.0px/18.0px 'Liberation Sans', sans-serif;color:#000;-webkit-text-stroke:0.15px #000">environment, region, or team ownership.</div>
<div class="t" style="left:633.50px;top:750.28px;font:bold 24.0px/24.0px 'Liberation Sans', sans-serif;color:#000;-webkit-text-stroke:0.15px #000">Defining Event Responses: Triggering Actions</div>
<div class="t" style="left:633.00px;top:793.96px;font:normal 18.0px/18.0px 'Liberation Sans', sans-serif;color:#000;-webkit-text-stroke:0.15px #000">Once an event is detected, trigger specific actions in response.</div>
<div class="t" style="left:643.50px;top:827.06px;font:normal 18.0px/18.0px 'Liberation Sans', sans-serif;color:#000;-webkit-text-stroke:0.15px #000"><b>Direct Resource Application:</b> You can directly specify the</div>
<div class="t" style="left:633.00px;top:847.86px;font:normal 18.0px/18.0px 'Liberation Sans', sans-serif;color:#000;-webkit-text-stroke:0.15px #000">resources to be deployed or updated.</div>
<div class="t" style="left:643.50px;top:868.86px;font:normal 18.0px/18.0px 'Liberation Sans', sans-serif;color:#000;-webkit-text-stroke:0.15px #000"><b>Template-Based Deployment:</b> You can define templates for</div>
<div class="t" style="left:633.00px;top:889.56px;font:normal 18.0px/18.0px 'Liberation Sans', sans-serif;color:#000;-webkit-text-stroke:0.15px #000">resources like Helm charts, raw YAML, or JSON. These templates</div>
<div class="t" style="left:633.00px;top:910.66px;font:normal 18.0px/18.0px 'Liberation Sans', sans-serif;color:#000;-webkit-text-stroke:0.15px #000">can be instantiated using data extracted from the resources that</div>
<div class="t" style="left:633.00px;top:931.56px;font:normal 18.0px/18.0px 'Liberation Sans', sans-serif;color:#000;-webkit-text-stroke:0.15px #000">triggered the event. This allows for dynamic and context-aware</div>
<div class="t" style="left:633.00px;top:952.36px;font:normal 18.0px/18.0px 'Liberation Sans', sans-serif;color:#000;-webkit-text-stroke:0.15px #000">deployments.</div>
</body></html>
